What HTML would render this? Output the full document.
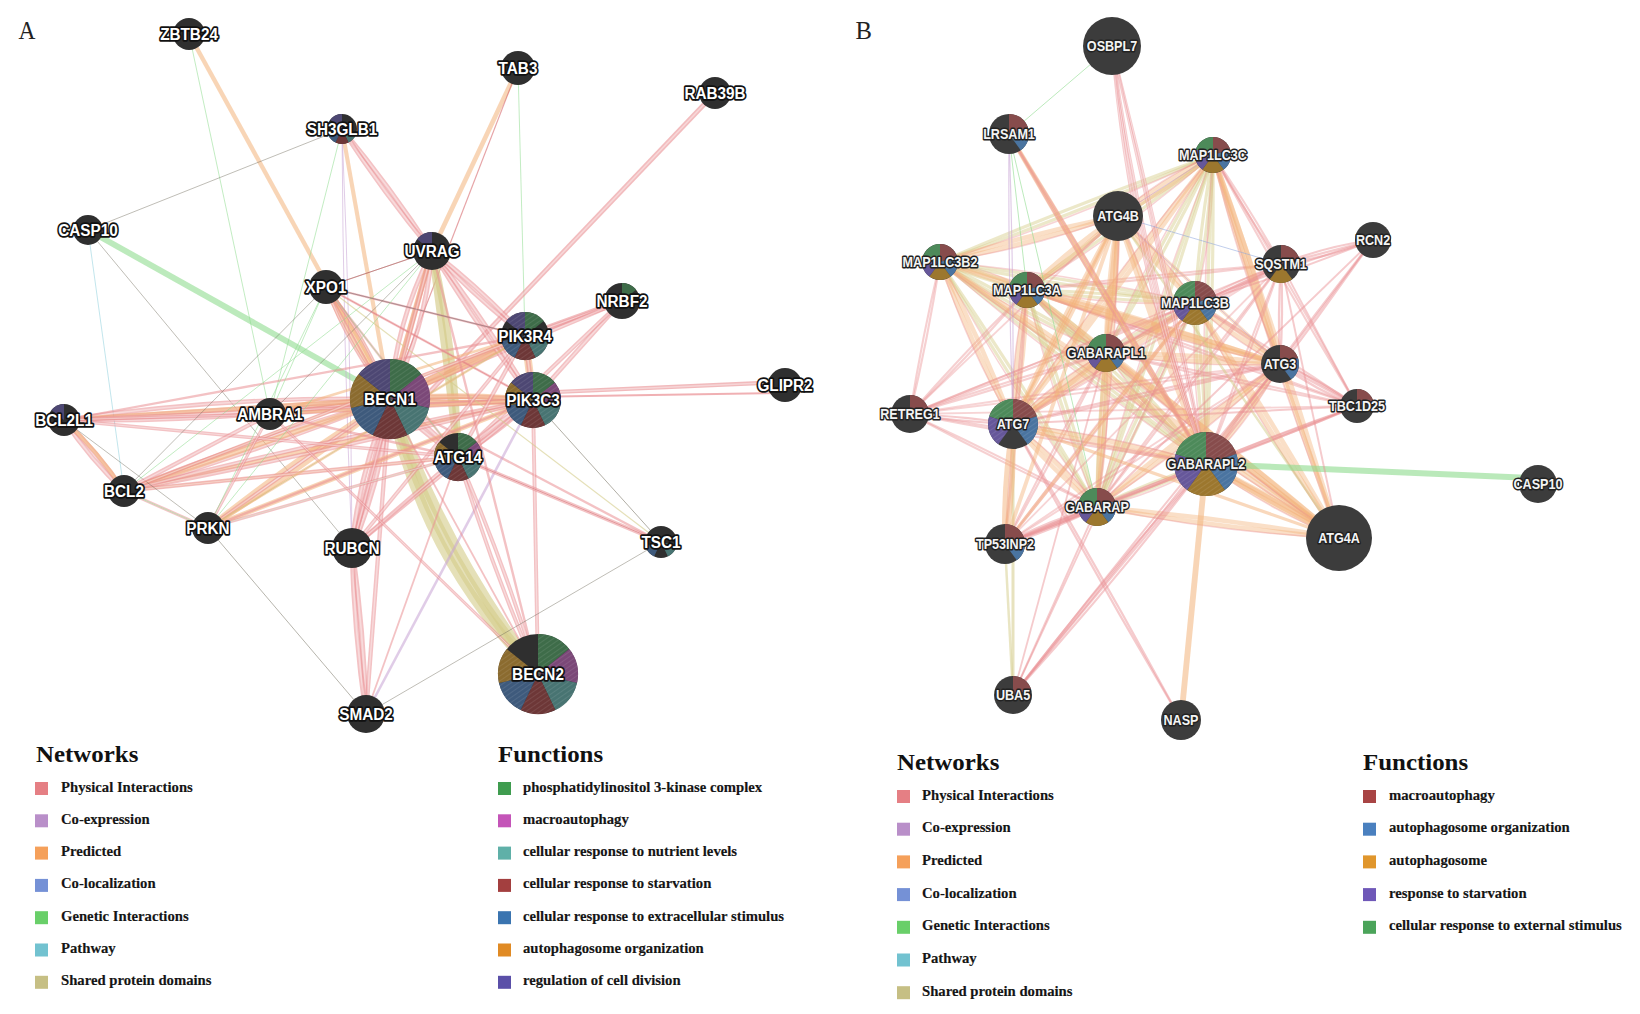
<!DOCTYPE html>
<html><head><meta charset="utf-8"><style>html,body{margin:0;padding:0;background:#fff;width:1640px;height:1014px;overflow:hidden}svg{display:block}</style></head>
<body>
<svg width="1640" height="1014" viewBox="0 0 1640 1014">
<style>
.la{font-family:"Liberation Sans",sans-serif;font-weight:bold;font-size:17px;fill:#fff;stroke:#111;stroke-width:3.6px;paint-order:stroke;stroke-linejoin:round;text-anchor:middle;dominant-baseline:central}
.lb{font-family:"Liberation Sans",sans-serif;font-weight:bold;font-size:14px;fill:#f4f4f4;stroke:#222;stroke-width:3px;paint-order:stroke;stroke-linejoin:round;text-anchor:middle;dominant-baseline:central}
.lt{font-family:"Liberation Serif",serif;font-weight:bold;font-size:23.5px;fill:#111}
.li{font-family:"Liberation Serif",serif;font-size:14.7px;font-weight:bold;fill:#151515;stroke:#151515;stroke-width:0.15px}
.pl{font-family:"Liberation Serif",serif;font-size:26px;fill:#222}
</style>
<defs><pattern id="hatch" width="4" height="4" patternUnits="userSpaceOnUse" patternTransform="rotate(-35)"><rect width="4" height="1" fill="#fff" fill-opacity="0.09"/></pattern></defs>
<rect width="1640" height="1014" fill="#fff"/>
<text class="pl" transform="translate(18.5,38.6) scale(0.9,1)">A</text>
<text class="pl" transform="translate(855.5,38.6) scale(0.95,1)">B</text>
<g stroke-linecap="butt" fill="none">
<path d="M189.0,34.0L390.0,399.0" stroke="#f3b27a" stroke-width="4.42" stroke-opacity="0.55"/>
<path d="M189.0,34.0L270.0,414.0" stroke="#8fdc8f" stroke-width="1.0" stroke-opacity="0.55"/>
<path d="M88.0,230.0L390.0,399.0" stroke="#8fdc8f" stroke-width="6.0" stroke-opacity="0.6"/>
<path d="M88.0,230.0L124.0,491.0" stroke="#8fd0dc" stroke-width="1.0" stroke-opacity="0.55"/>
<path d="M88.0,230.0L352.0,548.0" stroke="#6d6858" stroke-width="0.8" stroke-opacity="0.55"/>
<path d="M342.0,129.0L88.0,230.0" stroke="#6d6858" stroke-width="0.8" stroke-opacity="0.55"/>
<path d="M342.0,129.0Q390.6,187.4 432.0,251.0" stroke="#e98f93" stroke-width="4.785" stroke-opacity="0.55"/>
<path d="M342.0,129.0Q390.6,187.4 432.0,251.0" stroke="#fff" stroke-width="1.6" stroke-opacity="0.4"/>
<path d="M342.0,129.0Q383.4,192.6 432.0,251.0" stroke="#e98f93" stroke-width="4.785" stroke-opacity="0.55"/>
<path d="M342.0,129.0Q383.4,192.6 432.0,251.0" stroke="#fff" stroke-width="1.6" stroke-opacity="0.4"/>
<path d="M342.0,129.0L390.0,399.0" stroke="#f3b27a" stroke-width="4.16" stroke-opacity="0.55"/>
<path d="M342.0,129.0L270.0,414.0" stroke="#8fdc8f" stroke-width="1.0" stroke-opacity="0.55"/>
<path d="M342.0,129.0Q351.0,338.4 352.0,548.0" stroke="#c6a3d4" stroke-width="1.0" stroke-opacity="0.55"/>
<path d="M342.0,129.0Q343.0,338.6 352.0,548.0" stroke="#c6a3d4" stroke-width="1.0" stroke-opacity="0.55"/>
<path d="M518.0,68.0L432.0,251.0" stroke="#f3b27a" stroke-width="4.680000000000001" stroke-opacity="0.55"/>
<path d="M518.0,68.0L390.0,399.0" stroke="#d25a5f" stroke-width="1.2" stroke-opacity="0.55"/>
<path d="M518.0,68.0L525.0,336.0" stroke="#8fdc8f" stroke-width="1.0" stroke-opacity="0.55"/>
<path d="M715.0,93.0L423.0,399.0" stroke="#e98f93" stroke-width="4.785" stroke-opacity="0.6"/>
<path d="M715.0,93.0L423.0,399.0" stroke="#fff" stroke-width="1.6" stroke-opacity="0.4"/>
<path d="M786.0,382.0L533.0,393.0" stroke="#e98f93" stroke-width="4.199999999999999" stroke-opacity="0.62"/>
<path d="M786.0,382.0L533.0,393.0" stroke="#fff" stroke-width="1.4" stroke-opacity="0.4"/>
<path d="M786.0,393.0L390.0,399.0" stroke="#e98f93" stroke-width="1.9500000000000002" stroke-opacity="0.7"/>
<path d="M622.0,301.0L525.0,336.0" stroke="#e98f93" stroke-width="6.0" stroke-opacity="0.6"/>
<path d="M622.0,301.0L525.0,336.0" stroke="#fff" stroke-width="2.0" stroke-opacity="0.4"/>
<path d="M622.0,301.0L525.0,336.0" stroke="#e98f93" stroke-width="3.045" stroke-opacity="0.55"/>
<path d="M622.0,301.0L525.0,336.0" stroke="#fff" stroke-width="1.0" stroke-opacity="0.4"/>
<path d="M622.0,301.0L533.0,400.0" stroke="#e98f93" stroke-width="4.785" stroke-opacity="0.55"/>
<path d="M622.0,301.0L533.0,400.0" stroke="#fff" stroke-width="1.6" stroke-opacity="0.4"/>
<path d="M622.0,301.0L390.0,399.0" stroke="#e98f93" stroke-width="4.35" stroke-opacity="0.55"/>
<path d="M622.0,301.0L390.0,399.0" stroke="#fff" stroke-width="1.4" stroke-opacity="0.4"/>
<path d="M622.0,301.0L458.0,457.0" stroke="#e98f93" stroke-width="4.35" stroke-opacity="0.55"/>
<path d="M622.0,301.0L458.0,457.0" stroke="#fff" stroke-width="1.4" stroke-opacity="0.4"/>
<path d="M390.0,399.0Q442.9,547.9 538.0,674.0" stroke="#d4cb88" stroke-width="10.0" stroke-opacity="0.6"/>
<path d="M390.0,399.0Q432.3,553.6 538.0,674.0" stroke="#d4cb88" stroke-width="10.0" stroke-opacity="0.6"/>
<path d="M390.0,399.0Q421.7,559.2 538.0,674.0" stroke="#d4cb88" stroke-width="10.0" stroke-opacity="0.6"/>
<path d="M432.0,251.0Q455.9,352.6 458.0,457.0" stroke="#d4cb88" stroke-width="7.0" stroke-opacity="0.65"/>
<path d="M432.0,251.0Q446.0,353.9 458.0,457.0" stroke="#d4cb88" stroke-width="7.0" stroke-opacity="0.65"/>
<path d="M390.0,399.0Q461.5,393.6 533.0,400.0" stroke="#e98f93" stroke-width="4.785" stroke-opacity="0.55"/>
<path d="M390.0,399.0Q461.5,393.6 533.0,400.0" stroke="#fff" stroke-width="1.6" stroke-opacity="0.4"/>
<path d="M390.0,399.0Q461.5,405.4 533.0,400.0" stroke="#e98f93" stroke-width="4.785" stroke-opacity="0.55"/>
<path d="M390.0,399.0Q461.5,405.4 533.0,400.0" stroke="#fff" stroke-width="1.6" stroke-opacity="0.4"/>
<path d="M390.0,399.0Q461.5,392.7 533.0,400.0" stroke="#f3b27a" stroke-width="5.654999999999999" stroke-opacity="0.55"/>
<path d="M390.0,399.0Q461.5,406.3 533.0,400.0" stroke="#f3b27a" stroke-width="5.654999999999999" stroke-opacity="0.55"/>
<path d="M390.0,399.0Q455.3,362.9 525.0,336.0" stroke="#e98f93" stroke-width="4.785" stroke-opacity="0.55"/>
<path d="M390.0,399.0Q455.3,362.9 525.0,336.0" stroke="#fff" stroke-width="1.6" stroke-opacity="0.4"/>
<path d="M390.0,399.0Q459.7,372.1 525.0,336.0" stroke="#e98f93" stroke-width="4.785" stroke-opacity="0.55"/>
<path d="M390.0,399.0Q459.7,372.1 525.0,336.0" stroke="#fff" stroke-width="1.6" stroke-opacity="0.4"/>
<path d="M390.0,399.0L525.0,336.0" stroke="#f3b27a" stroke-width="7.800000000000001" stroke-opacity="0.6"/>
<path d="M390.0,399.0Q427.3,424.1 458.0,457.0" stroke="#e98f93" stroke-width="4.785" stroke-opacity="0.55"/>
<path d="M390.0,399.0Q427.3,424.1 458.0,457.0" stroke="#fff" stroke-width="1.6" stroke-opacity="0.4"/>
<path d="M390.0,399.0Q420.7,431.9 458.0,457.0" stroke="#e98f93" stroke-width="4.785" stroke-opacity="0.55"/>
<path d="M390.0,399.0Q420.7,431.9 458.0,457.0" stroke="#fff" stroke-width="1.6" stroke-opacity="0.4"/>
<path d="M390.0,399.0Q396.3,320.8 432.0,251.0" stroke="#e98f93" stroke-width="4.785" stroke-opacity="0.55"/>
<path d="M390.0,399.0Q396.3,320.8 432.0,251.0" stroke="#fff" stroke-width="1.6" stroke-opacity="0.4"/>
<path d="M390.0,399.0L432.0,251.0" stroke="#e98f93" stroke-width="4.785" stroke-opacity="0.55"/>
<path d="M390.0,399.0L432.0,251.0" stroke="#fff" stroke-width="1.6" stroke-opacity="0.4"/>
<path d="M390.0,399.0Q425.7,329.2 432.0,251.0" stroke="#e98f93" stroke-width="4.785" stroke-opacity="0.55"/>
<path d="M390.0,399.0Q425.7,329.2 432.0,251.0" stroke="#fff" stroke-width="1.6" stroke-opacity="0.4"/>
<path d="M390.0,399.0L432.0,251.0" stroke="#f3b27a" stroke-width="5.654999999999999" stroke-opacity="0.55"/>
<path d="M390.0,399.0Q382.5,476.4 352.0,548.0" stroke="#e98f93" stroke-width="5.22" stroke-opacity="0.55"/>
<path d="M390.0,399.0Q382.5,476.4 352.0,548.0" stroke="#fff" stroke-width="1.7" stroke-opacity="0.4"/>
<path d="M390.0,399.0L352.0,548.0" stroke="#e98f93" stroke-width="5.22" stroke-opacity="0.55"/>
<path d="M390.0,399.0L352.0,548.0" stroke="#fff" stroke-width="1.7" stroke-opacity="0.4"/>
<path d="M390.0,399.0Q359.5,470.6 352.0,548.0" stroke="#e98f93" stroke-width="5.22" stroke-opacity="0.55"/>
<path d="M390.0,399.0Q359.5,470.6 352.0,548.0" stroke="#fff" stroke-width="1.7" stroke-opacity="0.4"/>
<path d="M390.0,399.0Q330.6,411.6 270.0,414.0" stroke="#e98f93" stroke-width="4.35" stroke-opacity="0.55"/>
<path d="M390.0,399.0Q330.6,411.6 270.0,414.0" stroke="#fff" stroke-width="1.4" stroke-opacity="0.4"/>
<path d="M390.0,399.0Q329.4,401.4 270.0,414.0" stroke="#e98f93" stroke-width="4.35" stroke-opacity="0.55"/>
<path d="M390.0,399.0Q329.4,401.4 270.0,414.0" stroke="#fff" stroke-width="1.4" stroke-opacity="0.4"/>
<path d="M390.0,399.0L270.0,414.0" stroke="#f3b27a" stroke-width="3.9000000000000004" stroke-opacity="0.55"/>
<path d="M390.0,399.0Q227.9,423.1 64.0,420.0" stroke="#e98f93" stroke-width="4.35" stroke-opacity="0.55"/>
<path d="M390.0,399.0Q227.9,423.1 64.0,420.0" stroke="#fff" stroke-width="1.4" stroke-opacity="0.4"/>
<path d="M390.0,399.0L64.0,420.0" stroke="#e98f93" stroke-width="4.35" stroke-opacity="0.55"/>
<path d="M390.0,399.0L64.0,420.0" stroke="#fff" stroke-width="1.4" stroke-opacity="0.4"/>
<path d="M390.0,399.0Q226.1,395.9 64.0,420.0" stroke="#e98f93" stroke-width="4.35" stroke-opacity="0.55"/>
<path d="M390.0,399.0Q226.1,395.9 64.0,420.0" stroke="#fff" stroke-width="1.4" stroke-opacity="0.4"/>
<path d="M390.0,399.0L64.0,420.0" stroke="#f3b27a" stroke-width="4.901" stroke-opacity="0.55"/>
<path d="M390.0,399.0Q259.2,451.4 124.0,491.0" stroke="#e98f93" stroke-width="4.35" stroke-opacity="0.55"/>
<path d="M390.0,399.0Q259.2,451.4 124.0,491.0" stroke="#fff" stroke-width="1.4" stroke-opacity="0.4"/>
<path d="M390.0,399.0Q254.8,438.6 124.0,491.0" stroke="#e98f93" stroke-width="4.35" stroke-opacity="0.55"/>
<path d="M390.0,399.0Q254.8,438.6 124.0,491.0" stroke="#fff" stroke-width="1.4" stroke-opacity="0.4"/>
<path d="M390.0,399.0L124.0,491.0" stroke="#f3b27a" stroke-width="5.654999999999999" stroke-opacity="0.55"/>
<path d="M390.0,399.0Q302.9,469.0 208.0,528.0" stroke="#f3b27a" stroke-width="4.901" stroke-opacity="0.55"/>
<path d="M390.0,399.0Q295.1,458.0 208.0,528.0" stroke="#f3b27a" stroke-width="4.901" stroke-opacity="0.55"/>
<path d="M390.0,399.0L208.0,528.0" stroke="#e98f93" stroke-width="3.915" stroke-opacity="0.55"/>
<path d="M390.0,399.0L208.0,528.0" stroke="#fff" stroke-width="1.3" stroke-opacity="0.4"/>
<path d="M390.0,399.0Q352.1,346.4 326.0,287.0" stroke="#f3b27a" stroke-width="5.278" stroke-opacity="0.55"/>
<path d="M390.0,399.0Q363.9,339.6 326.0,287.0" stroke="#f3b27a" stroke-width="5.278" stroke-opacity="0.55"/>
<path d="M390.0,399.0Q349.1,348.1 326.0,287.0" stroke="#e98f93" stroke-width="3.4799999999999995" stroke-opacity="0.55"/>
<path d="M390.0,399.0Q349.1,348.1 326.0,287.0" stroke="#fff" stroke-width="1.1" stroke-opacity="0.4"/>
<path d="M390.0,399.0Q366.9,337.9 326.0,287.0" stroke="#e98f93" stroke-width="3.4799999999999995" stroke-opacity="0.55"/>
<path d="M390.0,399.0Q366.9,337.9 326.0,287.0" stroke="#fff" stroke-width="1.1" stroke-opacity="0.4"/>
<path d="M390.0,399.0L366.0,714.0" stroke="#e98f93" stroke-width="4.35" stroke-opacity="0.55"/>
<path d="M390.0,399.0L366.0,714.0" stroke="#fff" stroke-width="1.4" stroke-opacity="0.4"/>
<path d="M390.0,399.0L661.0,542.0" stroke="#e98f93" stroke-width="2.4000000000000004" stroke-opacity="0.55"/>
<path d="M533.0,400.0L525.0,336.0" stroke="#f3b27a" stroke-width="7.800000000000001" stroke-opacity="0.55"/>
<path d="M533.0,400.0L525.0,336.0" stroke="#e98f93" stroke-width="4.785" stroke-opacity="0.55"/>
<path d="M533.0,400.0L525.0,336.0" stroke="#fff" stroke-width="1.6" stroke-opacity="0.4"/>
<path d="M533.0,400.0Q498.6,432.6 458.0,457.0" stroke="#e98f93" stroke-width="4.785" stroke-opacity="0.55"/>
<path d="M533.0,400.0Q498.6,432.6 458.0,457.0" stroke="#fff" stroke-width="1.6" stroke-opacity="0.4"/>
<path d="M533.0,400.0Q492.4,424.4 458.0,457.0" stroke="#e98f93" stroke-width="4.785" stroke-opacity="0.55"/>
<path d="M533.0,400.0Q492.4,424.4 458.0,457.0" stroke="#fff" stroke-width="1.6" stroke-opacity="0.4"/>
<path d="M533.0,400.0Q478.3,328.4 432.0,251.0" stroke="#e98f93" stroke-width="4.785" stroke-opacity="0.55"/>
<path d="M533.0,400.0Q478.3,328.4 432.0,251.0" stroke="#fff" stroke-width="1.6" stroke-opacity="0.4"/>
<path d="M533.0,400.0Q486.7,322.6 432.0,251.0" stroke="#e98f93" stroke-width="4.785" stroke-opacity="0.55"/>
<path d="M533.0,400.0Q486.7,322.6 432.0,251.0" stroke="#fff" stroke-width="1.6" stroke-opacity="0.4"/>
<path d="M533.0,400.0L352.0,548.0" stroke="#e98f93" stroke-width="4.35" stroke-opacity="0.55"/>
<path d="M533.0,400.0L352.0,548.0" stroke="#fff" stroke-width="1.4" stroke-opacity="0.4"/>
<path d="M533.0,400.0L64.0,420.0" stroke="#e98f93" stroke-width="4.35" stroke-opacity="0.55"/>
<path d="M533.0,400.0L64.0,420.0" stroke="#fff" stroke-width="1.4" stroke-opacity="0.4"/>
<path d="M533.0,400.0L124.0,491.0" stroke="#f3b27a" stroke-width="4.524" stroke-opacity="0.55"/>
<path d="M533.0,400.0Q330.0,452.1 124.0,491.0" stroke="#e98f93" stroke-width="4.35" stroke-opacity="0.55"/>
<path d="M533.0,400.0Q330.0,452.1 124.0,491.0" stroke="#fff" stroke-width="1.4" stroke-opacity="0.4"/>
<path d="M533.0,400.0Q327.0,438.9 124.0,491.0" stroke="#e98f93" stroke-width="4.35" stroke-opacity="0.55"/>
<path d="M533.0,400.0Q327.0,438.9 124.0,491.0" stroke="#fff" stroke-width="1.4" stroke-opacity="0.4"/>
<path d="M533.0,400.0L208.0,528.0" stroke="#f3b27a" stroke-width="4.901" stroke-opacity="0.55"/>
<path d="M533.0,400.0L208.0,528.0" stroke="#e98f93" stroke-width="2.4000000000000004" stroke-opacity="0.55"/>
<path d="M533.0,400.0L270.0,414.0" stroke="#e98f93" stroke-width="4.35" stroke-opacity="0.55"/>
<path d="M533.0,400.0L270.0,414.0" stroke="#fff" stroke-width="1.4" stroke-opacity="0.4"/>
<path d="M533.0,400.0L270.0,414.0" stroke="#f3b27a" stroke-width="3.12" stroke-opacity="0.55"/>
<path d="M533.0,400.0L326.0,287.0" stroke="#d25a5f" stroke-width="1.0" stroke-opacity="0.55"/>
<path d="M533.0,400.0L326.0,287.0" stroke="#e98f93" stroke-width="2.4000000000000004" stroke-opacity="0.55"/>
<path d="M533.0,400.0L538.0,674.0" stroke="#e98f93" stroke-width="3.915" stroke-opacity="0.55"/>
<path d="M533.0,400.0L538.0,674.0" stroke="#fff" stroke-width="1.3" stroke-opacity="0.4"/>
<path d="M533.0,400.0L661.0,542.0" stroke="#6d6858" stroke-width="0.9" stroke-opacity="0.6"/>
<path d="M326.0,287.0L661.0,542.0" stroke="#d4cb88" stroke-width="1.2" stroke-opacity="0.6"/>
<path d="M533.0,400.0L366.0,714.0" stroke="#c6a3d4" stroke-width="2.6" stroke-opacity="0.55"/>
<path d="M525.0,336.0L458.0,457.0" stroke="#e98f93" stroke-width="4.35" stroke-opacity="0.55"/>
<path d="M525.0,336.0L458.0,457.0" stroke="#fff" stroke-width="1.4" stroke-opacity="0.4"/>
<path d="M525.0,336.0Q475.1,297.3 432.0,251.0" stroke="#e98f93" stroke-width="4.785" stroke-opacity="0.55"/>
<path d="M525.0,336.0Q475.1,297.3 432.0,251.0" stroke="#fff" stroke-width="1.6" stroke-opacity="0.4"/>
<path d="M525.0,336.0Q481.9,289.7 432.0,251.0" stroke="#e98f93" stroke-width="4.785" stroke-opacity="0.55"/>
<path d="M525.0,336.0Q481.9,289.7 432.0,251.0" stroke="#fff" stroke-width="1.6" stroke-opacity="0.4"/>
<path d="M525.0,336.0L352.0,548.0" stroke="#e98f93" stroke-width="3.915" stroke-opacity="0.55"/>
<path d="M525.0,336.0L352.0,548.0" stroke="#fff" stroke-width="1.3" stroke-opacity="0.4"/>
<path d="M525.0,336.0L326.0,287.0" stroke="#9a8ad0" stroke-width="1.0" stroke-opacity="0.45"/>
<path d="M525.0,336.0L326.0,287.0" stroke="#e98f93" stroke-width="2.0999999999999996" stroke-opacity="0.55"/>
<path d="M525.0,336.0L124.0,491.0" stroke="#f3b27a" stroke-width="2.6" stroke-opacity="0.55"/>
<path d="M525.0,336.0L124.0,491.0" stroke="#e98f93" stroke-width="3.915" stroke-opacity="0.55"/>
<path d="M525.0,336.0L124.0,491.0" stroke="#fff" stroke-width="1.3" stroke-opacity="0.4"/>
<path d="M525.0,336.0L64.0,420.0" stroke="#e98f93" stroke-width="2.25" stroke-opacity="0.55"/>
<path d="M525.0,336.0L208.0,528.0" stroke="#8fdc8f" stroke-width="1.0" stroke-opacity="0.55"/>
<path d="M525.0,336.0L270.0,414.0" stroke="#f3b27a" stroke-width="2.6" stroke-opacity="0.55"/>
<path d="M458.0,457.0L352.0,548.0" stroke="#e98f93" stroke-width="4.35" stroke-opacity="0.55"/>
<path d="M458.0,457.0L352.0,548.0" stroke="#fff" stroke-width="1.4" stroke-opacity="0.4"/>
<path d="M458.0,457.0L661.0,542.0" stroke="#e98f93" stroke-width="3.915" stroke-opacity="0.55"/>
<path d="M458.0,457.0L661.0,542.0" stroke="#fff" stroke-width="1.3" stroke-opacity="0.4"/>
<path d="M458.0,457.0L661.0,542.0" stroke="#d25a5f" stroke-width="1.0" stroke-opacity="0.55"/>
<path d="M458.0,457.0Q504.4,563.1 538.0,674.0" stroke="#e98f93" stroke-width="3.915" stroke-opacity="0.55"/>
<path d="M458.0,457.0Q504.4,563.1 538.0,674.0" stroke="#fff" stroke-width="1.3" stroke-opacity="0.4"/>
<path d="M458.0,457.0Q491.6,567.9 538.0,674.0" stroke="#e98f93" stroke-width="3.915" stroke-opacity="0.55"/>
<path d="M458.0,457.0Q491.6,567.9 538.0,674.0" stroke="#fff" stroke-width="1.3" stroke-opacity="0.4"/>
<path d="M458.0,457.0L326.0,287.0" stroke="#e98f93" stroke-width="2.25" stroke-opacity="0.55"/>
<path d="M458.0,457.0L124.0,491.0" stroke="#f3b27a" stroke-width="2.6" stroke-opacity="0.55"/>
<path d="M458.0,457.0L124.0,491.0" stroke="#e98f93" stroke-width="3.915" stroke-opacity="0.55"/>
<path d="M458.0,457.0L124.0,491.0" stroke="#fff" stroke-width="1.3" stroke-opacity="0.4"/>
<path d="M458.0,457.0L64.0,420.0" stroke="#e98f93" stroke-width="3.4799999999999995" stroke-opacity="0.55"/>
<path d="M458.0,457.0L64.0,420.0" stroke="#fff" stroke-width="1.1" stroke-opacity="0.4"/>
<path d="M458.0,457.0L208.0,528.0" stroke="#8fdc8f" stroke-width="1.0" stroke-opacity="0.55"/>
<path d="M458.0,457.0L270.0,414.0" stroke="#e98f93" stroke-width="2.4000000000000004" stroke-opacity="0.55"/>
<path d="M432.0,251.0L352.0,548.0" stroke="#e98f93" stroke-width="4.35" stroke-opacity="0.55"/>
<path d="M432.0,251.0L352.0,548.0" stroke="#fff" stroke-width="1.4" stroke-opacity="0.4"/>
<path d="M432.0,251.0L326.0,287.0" stroke="#6d6858" stroke-width="0.8" stroke-opacity="0.55"/>
<path d="M432.0,251.0L326.0,287.0" stroke="#d25a5f" stroke-width="1.0" stroke-opacity="0.55"/>
<path d="M432.0,251.0L538.0,674.0" stroke="#e98f93" stroke-width="2.4000000000000004" stroke-opacity="0.55"/>
<path d="M432.0,251.0L270.0,414.0" stroke="#6d6858" stroke-width="0.8" stroke-opacity="0.55"/>
<path d="M432.0,251.0L124.0,491.0" stroke="#8fdc8f" stroke-width="1.0" stroke-opacity="0.55"/>
<path d="M352.0,548.0Q363.7,630.6 366.0,714.0" stroke="#e98f93" stroke-width="5.22" stroke-opacity="0.55"/>
<path d="M352.0,548.0Q363.7,630.6 366.0,714.0" stroke="#fff" stroke-width="1.7" stroke-opacity="0.4"/>
<path d="M352.0,548.0Q354.3,631.4 366.0,714.0" stroke="#e98f93" stroke-width="5.22" stroke-opacity="0.55"/>
<path d="M352.0,548.0Q354.3,631.4 366.0,714.0" stroke="#fff" stroke-width="1.7" stroke-opacity="0.4"/>
<path d="M270.0,414.0L538.0,674.0" stroke="#e98f93" stroke-width="3.0" stroke-opacity="0.55"/>
<path d="M270.0,414.0L538.0,674.0" stroke="#fff" stroke-width="1.0" stroke-opacity="0.4"/>
<path d="M366.0,714.0L661.0,542.0" stroke="#6d6858" stroke-width="0.8" stroke-opacity="0.55"/>
<path d="M366.0,714.0L208.0,528.0" stroke="#6d6858" stroke-width="0.9" stroke-opacity="0.55"/>
<path d="M366.0,714.0L458.0,457.0" stroke="#e98f93" stroke-width="1.7999999999999998" stroke-opacity="0.55"/>
<path d="M124.0,491.0Q90.1,458.8 64.0,420.0" stroke="#e98f93" stroke-width="4.785" stroke-opacity="0.55"/>
<path d="M124.0,491.0Q90.1,458.8 64.0,420.0" stroke="#fff" stroke-width="1.6" stroke-opacity="0.4"/>
<path d="M124.0,491.0Q97.9,452.2 64.0,420.0" stroke="#e98f93" stroke-width="4.785" stroke-opacity="0.55"/>
<path d="M124.0,491.0Q97.9,452.2 64.0,420.0" stroke="#fff" stroke-width="1.6" stroke-opacity="0.4"/>
<path d="M124.0,491.0Q98.6,451.6 64.0,420.0" stroke="#f3b27a" stroke-width="3.9000000000000004" stroke-opacity="0.6"/>
<path d="M124.0,491.0L208.0,528.0" stroke="#e98f93" stroke-width="3.0" stroke-opacity="0.55"/>
<path d="M124.0,491.0L208.0,528.0" stroke="#fff" stroke-width="1.0" stroke-opacity="0.4"/>
<path d="M124.0,491.0L208.0,528.0" stroke="#8fdc8f" stroke-width="1.0" stroke-opacity="0.55"/>
<path d="M64.0,420.0L208.0,528.0" stroke="#6d6858" stroke-width="0.8" stroke-opacity="0.55"/>
<path d="M270.0,414.0L208.0,528.0" stroke="#e98f93" stroke-width="3.0" stroke-opacity="0.55"/>
<path d="M270.0,414.0L208.0,528.0" stroke="#fff" stroke-width="1.0" stroke-opacity="0.4"/>
<path d="M270.0,414.0L124.0,491.0" stroke="#e98f93" stroke-width="4.35" stroke-opacity="0.55"/>
<path d="M270.0,414.0L124.0,491.0" stroke="#fff" stroke-width="1.4" stroke-opacity="0.4"/>
<path d="M270.0,414.0L326.0,287.0" stroke="#8fdc8f" stroke-width="1.0" stroke-opacity="0.55"/>
<path d="M270.0,414.0L64.0,420.0" stroke="#e98f93" stroke-width="3.4799999999999995" stroke-opacity="0.55"/>
<path d="M270.0,414.0L64.0,420.0" stroke="#fff" stroke-width="1.1" stroke-opacity="0.4"/>
<path d="M208.0,528.0L326.0,287.0" stroke="#8fdc8f" stroke-width="1.0" stroke-opacity="0.55"/>
<path d="M124.0,491.0L326.0,287.0" stroke="#6d6858" stroke-width="0.8" stroke-opacity="0.55"/>
<path d="M326.0,287.0L525.0,336.0" stroke="#6d6858" stroke-width="0.8" stroke-opacity="0.55"/>
<path d="M326.0,287.0L458.0,457.0" stroke="#8fdc8f" stroke-width="1.0" stroke-opacity="0.55"/>
<path d="M326.0,287.0L538.0,674.0" stroke="#e98f93" stroke-width="1.7999999999999998" stroke-opacity="0.55"/>
<path d="M208.0,528.0L525.0,336.0" stroke="#f3b27a" stroke-width="2.6" stroke-opacity="0.55"/>
<path d="M208.0,528.0L458.0,457.0" stroke="#e98f93" stroke-width="3.045" stroke-opacity="0.55"/>
<path d="M208.0,528.0L458.0,457.0" stroke="#fff" stroke-width="1.0" stroke-opacity="0.4"/>
<path d="M208.0,528.0L432.0,251.0" stroke="#8fdc8f" stroke-width="1.0" stroke-opacity="0.55"/>
<path d="M1027.0,290.0Q1111.3,292.0 1195.0,303.0" stroke="#d4cb88" stroke-width="3.2" stroke-opacity="0.45"/>
<path d="M1027.0,290.0Q1110.7,301.0 1195.0,303.0" stroke="#d4cb88" stroke-width="3.2" stroke-opacity="0.45"/>
<path d="M1027.0,290.0Q1110.2,306.5 1195.0,303.0" stroke="#e98f93" stroke-width="1.5" stroke-opacity="0.3825"/>
<path d="M1027.0,290.0Q982.1,280.3 940.0,262.0" stroke="#d4cb88" stroke-width="3.2" stroke-opacity="0.45"/>
<path d="M1027.0,290.0Q984.9,271.7 940.0,262.0" stroke="#d4cb88" stroke-width="3.2" stroke-opacity="0.45"/>
<path d="M1027.0,290.0Q986.6,266.5 940.0,262.0" stroke="#e98f93" stroke-width="1.5" stroke-opacity="0.3825"/>
<path d="M1027.0,290.0Q1117.4,218.9 1213.0,155.0" stroke="#d4cb88" stroke-width="3.2" stroke-opacity="0.45"/>
<path d="M1027.0,290.0Q1122.6,226.1 1213.0,155.0" stroke="#d4cb88" stroke-width="3.2" stroke-opacity="0.45"/>
<path d="M1027.0,290.0Q1125.9,230.6 1213.0,155.0" stroke="#e98f93" stroke-width="1.5" stroke-opacity="0.3825"/>
<path d="M1027.0,290.0Q1066.3,397.1 1097.0,507.0" stroke="#d4cb88" stroke-width="3.2" stroke-opacity="0.45"/>
<path d="M1027.0,290.0Q1057.7,399.9 1097.0,507.0" stroke="#d4cb88" stroke-width="3.2" stroke-opacity="0.45"/>
<path d="M1027.0,290.0Q1052.5,401.6 1097.0,507.0" stroke="#e98f93" stroke-width="1.5" stroke-opacity="0.3825"/>
<path d="M1027.0,290.0Q1069.3,318.0 1106.0,353.0" stroke="#d4cb88" stroke-width="3.2" stroke-opacity="0.45"/>
<path d="M1027.0,290.0Q1063.7,325.0 1106.0,353.0" stroke="#d4cb88" stroke-width="3.2" stroke-opacity="0.45"/>
<path d="M1027.0,290.0Q1060.3,329.3 1106.0,353.0" stroke="#e98f93" stroke-width="1.5" stroke-opacity="0.3825"/>
<path d="M1027.0,290.0Q1119.6,373.8 1206.0,464.0" stroke="#d4cb88" stroke-width="3.2" stroke-opacity="0.45"/>
<path d="M1027.0,290.0Q1113.4,380.2 1206.0,464.0" stroke="#d4cb88" stroke-width="3.2" stroke-opacity="0.45"/>
<path d="M1027.0,290.0Q1109.5,384.2 1206.0,464.0" stroke="#e98f93" stroke-width="1.5" stroke-opacity="0.3825"/>
<path d="M1195.0,303.0Q1066.8,286.9 940.0,262.0" stroke="#d4cb88" stroke-width="3.2" stroke-opacity="0.45"/>
<path d="M1195.0,303.0Q1068.2,278.1 940.0,262.0" stroke="#d4cb88" stroke-width="3.2" stroke-opacity="0.45"/>
<path d="M1195.0,303.0Q1069.1,272.6 940.0,262.0" stroke="#e98f93" stroke-width="1.5" stroke-opacity="0.3825"/>
<path d="M1195.0,303.0Q1199.5,228.5 1213.0,155.0" stroke="#d4cb88" stroke-width="3.2" stroke-opacity="0.45"/>
<path d="M1195.0,303.0Q1208.5,229.5 1213.0,155.0" stroke="#d4cb88" stroke-width="3.2" stroke-opacity="0.45"/>
<path d="M1195.0,303.0Q1213.9,230.2 1213.0,155.0" stroke="#e98f93" stroke-width="1.5" stroke-opacity="0.3825"/>
<path d="M1195.0,303.0Q1150.1,406.9 1097.0,507.0" stroke="#d4cb88" stroke-width="3.2" stroke-opacity="0.45"/>
<path d="M1195.0,303.0Q1141.9,403.1 1097.0,507.0" stroke="#d4cb88" stroke-width="3.2" stroke-opacity="0.45"/>
<path d="M1195.0,303.0Q1137.0,400.7 1097.0,507.0" stroke="#e98f93" stroke-width="1.5" stroke-opacity="0.3825"/>
<path d="M1195.0,303.0Q1152.7,331.9 1106.0,353.0" stroke="#d4cb88" stroke-width="3.2" stroke-opacity="0.45"/>
<path d="M1195.0,303.0Q1148.3,324.1 1106.0,353.0" stroke="#d4cb88" stroke-width="3.2" stroke-opacity="0.45"/>
<path d="M1195.0,303.0Q1145.6,319.3 1106.0,353.0" stroke="#e98f93" stroke-width="1.5" stroke-opacity="0.3825"/>
<path d="M1195.0,303.0Q1205.0,383.2 1206.0,464.0" stroke="#d4cb88" stroke-width="3.2" stroke-opacity="0.45"/>
<path d="M1195.0,303.0Q1196.0,383.8 1206.0,464.0" stroke="#d4cb88" stroke-width="3.2" stroke-opacity="0.45"/>
<path d="M1195.0,303.0Q1190.5,384.2 1206.0,464.0" stroke="#e98f93" stroke-width="1.5" stroke-opacity="0.3825"/>
<path d="M940.0,262.0Q1074.9,204.3 1213.0,155.0" stroke="#d4cb88" stroke-width="3.2" stroke-opacity="0.45"/>
<path d="M940.0,262.0Q1078.1,212.7 1213.0,155.0" stroke="#d4cb88" stroke-width="3.2" stroke-opacity="0.45"/>
<path d="M940.0,262.0Q1080.1,217.8 1213.0,155.0" stroke="#e98f93" stroke-width="1.5" stroke-opacity="0.3825"/>
<path d="M940.0,262.0Q1022.3,382.1 1097.0,507.0" stroke="#d4cb88" stroke-width="3.2" stroke-opacity="0.45"/>
<path d="M940.0,262.0Q1014.7,386.9 1097.0,507.0" stroke="#d4cb88" stroke-width="3.2" stroke-opacity="0.45"/>
<path d="M940.0,262.0Q1010.1,389.9 1097.0,507.0" stroke="#e98f93" stroke-width="1.5" stroke-opacity="0.3825"/>
<path d="M940.0,262.0Q1025.2,303.6 1106.0,353.0" stroke="#d4cb88" stroke-width="3.2" stroke-opacity="0.45"/>
<path d="M940.0,262.0Q1020.8,311.4 1106.0,353.0" stroke="#d4cb88" stroke-width="3.2" stroke-opacity="0.45"/>
<path d="M940.0,262.0Q1018.2,316.3 1106.0,353.0" stroke="#e98f93" stroke-width="1.5" stroke-opacity="0.3825"/>
<path d="M940.0,262.0Q1075.7,359.4 1206.0,464.0" stroke="#d4cb88" stroke-width="3.2" stroke-opacity="0.45"/>
<path d="M940.0,262.0Q1070.3,366.6 1206.0,464.0" stroke="#d4cb88" stroke-width="3.2" stroke-opacity="0.45"/>
<path d="M940.0,262.0Q1067.0,371.0 1206.0,464.0" stroke="#e98f93" stroke-width="1.5" stroke-opacity="0.3825"/>
<path d="M1213.0,155.0Q1159.3,332.4 1097.0,507.0" stroke="#d4cb88" stroke-width="3.2" stroke-opacity="0.45"/>
<path d="M1213.0,155.0Q1150.7,329.6 1097.0,507.0" stroke="#d4cb88" stroke-width="3.2" stroke-opacity="0.45"/>
<path d="M1213.0,155.0Q1145.5,327.9 1097.0,507.0" stroke="#e98f93" stroke-width="1.5" stroke-opacity="0.3825"/>
<path d="M1213.0,155.0Q1163.5,256.1 1106.0,353.0" stroke="#d4cb88" stroke-width="3.2" stroke-opacity="0.45"/>
<path d="M1213.0,155.0Q1155.5,251.9 1106.0,353.0" stroke="#d4cb88" stroke-width="3.2" stroke-opacity="0.45"/>
<path d="M1213.0,155.0Q1150.7,249.2 1106.0,353.0" stroke="#e98f93" stroke-width="1.5" stroke-opacity="0.3825"/>
<path d="M1213.0,155.0Q1214.0,309.6 1206.0,464.0" stroke="#d4cb88" stroke-width="3.2" stroke-opacity="0.45"/>
<path d="M1213.0,155.0Q1205.0,309.4 1206.0,464.0" stroke="#d4cb88" stroke-width="3.2" stroke-opacity="0.45"/>
<path d="M1213.0,155.0Q1199.5,309.3 1206.0,464.0" stroke="#e98f93" stroke-width="1.5" stroke-opacity="0.3825"/>
<path d="M1097.0,507.0Q1097.0,429.7 1106.0,353.0" stroke="#d4cb88" stroke-width="3.2" stroke-opacity="0.45"/>
<path d="M1097.0,507.0Q1106.0,430.3 1106.0,353.0" stroke="#d4cb88" stroke-width="3.2" stroke-opacity="0.45"/>
<path d="M1097.0,507.0Q1111.5,430.6 1106.0,353.0" stroke="#e98f93" stroke-width="1.5" stroke-opacity="0.3825"/>
<path d="M1097.0,507.0Q1149.8,481.3 1206.0,464.0" stroke="#d4cb88" stroke-width="3.2" stroke-opacity="0.45"/>
<path d="M1097.0,507.0Q1153.2,489.7 1206.0,464.0" stroke="#d4cb88" stroke-width="3.2" stroke-opacity="0.45"/>
<path d="M1097.0,507.0Q1155.2,494.8 1206.0,464.0" stroke="#e98f93" stroke-width="1.5" stroke-opacity="0.3825"/>
<path d="M1106.0,353.0Q1159.3,405.5 1206.0,464.0" stroke="#d4cb88" stroke-width="3.2" stroke-opacity="0.45"/>
<path d="M1106.0,353.0Q1152.7,411.5 1206.0,464.0" stroke="#d4cb88" stroke-width="3.2" stroke-opacity="0.45"/>
<path d="M1106.0,353.0Q1148.6,415.2 1206.0,464.0" stroke="#e98f93" stroke-width="1.5" stroke-opacity="0.3825"/>
<path d="M1027.0,290.0Q1186.1,410.1 1339.0,538.0" stroke="#f3b27a" stroke-width="4.680000000000001" stroke-opacity="0.42"/>
<path d="M1027.0,290.0Q1179.9,417.9 1339.0,538.0" stroke="#f3b27a" stroke-width="4.680000000000001" stroke-opacity="0.42"/>
<path d="M1027.0,290.0Q1176.8,421.8 1339.0,538.0" stroke="#e98f93" stroke-width="1.5" stroke-opacity="0.3825"/>
<path d="M1027.0,290.0Q1069.3,249.1 1118.0,216.0" stroke="#f3b27a" stroke-width="4.680000000000001" stroke-opacity="0.42"/>
<path d="M1027.0,290.0Q1075.7,256.9 1118.0,216.0" stroke="#f3b27a" stroke-width="4.680000000000001" stroke-opacity="0.42"/>
<path d="M1027.0,290.0Q1078.8,260.8 1118.0,216.0" stroke="#e98f93" stroke-width="1.5" stroke-opacity="0.3825"/>
<path d="M1027.0,290.0Q1025.0,357.5 1013.0,424.0" stroke="#f3b27a" stroke-width="4.680000000000001" stroke-opacity="0.42"/>
<path d="M1027.0,290.0Q1015.0,356.5 1013.0,424.0" stroke="#f3b27a" stroke-width="4.680000000000001" stroke-opacity="0.42"/>
<path d="M1027.0,290.0Q1010.1,356.0 1013.0,424.0" stroke="#e98f93" stroke-width="1.5" stroke-opacity="0.3825"/>
<path d="M1027.0,290.0Q1154.9,322.2 1280.0,364.0" stroke="#f3b27a" stroke-width="4.680000000000001" stroke-opacity="0.42"/>
<path d="M1027.0,290.0Q1152.1,331.8 1280.0,364.0" stroke="#f3b27a" stroke-width="4.680000000000001" stroke-opacity="0.42"/>
<path d="M1027.0,290.0Q1150.7,336.6 1280.0,364.0" stroke="#e98f93" stroke-width="1.5" stroke-opacity="0.3825"/>
<path d="M1027.0,290.0Q1153.7,274.0 1281.0,264.0" stroke="#e98f93" stroke-width="2.0999999999999996" stroke-opacity="0.425"/>
<path d="M1027.0,290.0Q1154.3,280.0 1281.0,264.0" stroke="#e98f93" stroke-width="2.0999999999999996" stroke-opacity="0.425"/>
<path d="M1027.0,290.0Q1019.0,417.3 1005.0,544.0" stroke="#e98f93" stroke-width="2.0999999999999996" stroke-opacity="0.425"/>
<path d="M1027.0,290.0Q1013.0,416.7 1005.0,544.0" stroke="#e98f93" stroke-width="2.0999999999999996" stroke-opacity="0.425"/>
<path d="M1027.0,290.0Q970.7,354.1 910.0,414.0" stroke="#e98f93" stroke-width="2.0999999999999996" stroke-opacity="0.425"/>
<path d="M1027.0,290.0Q966.3,349.9 910.0,414.0" stroke="#e98f93" stroke-width="2.0999999999999996" stroke-opacity="0.425"/>
<path d="M1027.0,290.0Q1193.0,345.2 1357.0,406.0" stroke="#e98f93" stroke-width="2.0999999999999996" stroke-opacity="0.425"/>
<path d="M1027.0,290.0Q1191.0,350.8 1357.0,406.0" stroke="#e98f93" stroke-width="2.0999999999999996" stroke-opacity="0.425"/>
<path d="M1195.0,303.0Q1271.3,417.9 1339.0,538.0" stroke="#f3b27a" stroke-width="4.680000000000001" stroke-opacity="0.42"/>
<path d="M1195.0,303.0Q1262.7,423.1 1339.0,538.0" stroke="#f3b27a" stroke-width="4.680000000000001" stroke-opacity="0.42"/>
<path d="M1195.0,303.0Q1258.5,425.7 1339.0,538.0" stroke="#e98f93" stroke-width="1.5" stroke-opacity="0.3825"/>
<path d="M1195.0,303.0Q1152.8,262.8 1118.0,216.0" stroke="#f3b27a" stroke-width="4.680000000000001" stroke-opacity="0.42"/>
<path d="M1195.0,303.0Q1160.2,256.2 1118.0,216.0" stroke="#f3b27a" stroke-width="4.680000000000001" stroke-opacity="0.42"/>
<path d="M1195.0,303.0Q1164.0,252.9 1118.0,216.0" stroke="#e98f93" stroke-width="1.5" stroke-opacity="0.3825"/>
<path d="M1195.0,303.0Q1106.8,367.7 1013.0,424.0" stroke="#f3b27a" stroke-width="4.680000000000001" stroke-opacity="0.42"/>
<path d="M1195.0,303.0Q1101.2,359.3 1013.0,424.0" stroke="#f3b27a" stroke-width="4.680000000000001" stroke-opacity="0.42"/>
<path d="M1195.0,303.0Q1098.5,355.2 1013.0,424.0" stroke="#e98f93" stroke-width="1.5" stroke-opacity="0.3825"/>
<path d="M1195.0,303.0Q1240.4,329.4 1280.0,364.0" stroke="#f3b27a" stroke-width="4.680000000000001" stroke-opacity="0.42"/>
<path d="M1195.0,303.0Q1234.6,337.6 1280.0,364.0" stroke="#f3b27a" stroke-width="4.680000000000001" stroke-opacity="0.42"/>
<path d="M1195.0,303.0Q1231.7,341.6 1280.0,364.0" stroke="#e98f93" stroke-width="1.5" stroke-opacity="0.3825"/>
<path d="M1195.0,303.0Q1236.8,280.8 1281.0,264.0" stroke="#e98f93" stroke-width="2.0999999999999996" stroke-opacity="0.425"/>
<path d="M1195.0,303.0Q1239.2,286.2 1281.0,264.0" stroke="#e98f93" stroke-width="2.0999999999999996" stroke-opacity="0.425"/>
<path d="M1195.0,303.0Q1102.4,425.4 1005.0,544.0" stroke="#e98f93" stroke-width="2.0999999999999996" stroke-opacity="0.425"/>
<path d="M1195.0,303.0Q1097.6,421.6 1005.0,544.0" stroke="#e98f93" stroke-width="2.0999999999999996" stroke-opacity="0.425"/>
<path d="M1195.0,303.0Q1053.6,361.3 910.0,414.0" stroke="#e98f93" stroke-width="2.0999999999999996" stroke-opacity="0.425"/>
<path d="M1195.0,303.0Q1051.4,355.7 910.0,414.0" stroke="#e98f93" stroke-width="2.0999999999999996" stroke-opacity="0.425"/>
<path d="M1195.0,303.0Q1277.6,352.0 1357.0,406.0" stroke="#e98f93" stroke-width="2.0999999999999996" stroke-opacity="0.425"/>
<path d="M1195.0,303.0Q1274.4,357.0 1357.0,406.0" stroke="#e98f93" stroke-width="2.0999999999999996" stroke-opacity="0.425"/>
<path d="M940.0,262.0Q1142.3,395.9 1339.0,538.0" stroke="#f3b27a" stroke-width="4.680000000000001" stroke-opacity="0.42"/>
<path d="M940.0,262.0Q1136.7,404.1 1339.0,538.0" stroke="#f3b27a" stroke-width="4.680000000000001" stroke-opacity="0.42"/>
<path d="M940.0,262.0Q1133.8,408.2 1339.0,538.0" stroke="#e98f93" stroke-width="1.5" stroke-opacity="0.3825"/>
<path d="M940.0,262.0Q1027.7,234.2 1118.0,216.0" stroke="#f3b27a" stroke-width="4.680000000000001" stroke-opacity="0.42"/>
<path d="M940.0,262.0Q1030.3,243.8 1118.0,216.0" stroke="#f3b27a" stroke-width="4.680000000000001" stroke-opacity="0.42"/>
<path d="M940.0,262.0Q1031.5,248.7 1118.0,216.0" stroke="#e98f93" stroke-width="1.5" stroke-opacity="0.3825"/>
<path d="M940.0,262.0Q981.1,340.9 1013.0,424.0" stroke="#f3b27a" stroke-width="4.680000000000001" stroke-opacity="0.42"/>
<path d="M940.0,262.0Q971.9,345.1 1013.0,424.0" stroke="#f3b27a" stroke-width="4.680000000000001" stroke-opacity="0.42"/>
<path d="M940.0,262.0Q967.4,347.1 1013.0,424.0" stroke="#e98f93" stroke-width="1.5" stroke-opacity="0.3825"/>
<path d="M940.0,262.0Q1111.4,308.2 1280.0,364.0" stroke="#f3b27a" stroke-width="4.680000000000001" stroke-opacity="0.42"/>
<path d="M940.0,262.0Q1108.6,317.8 1280.0,364.0" stroke="#f3b27a" stroke-width="4.680000000000001" stroke-opacity="0.42"/>
<path d="M940.0,262.0Q927.9,338.6 910.0,414.0" stroke="#e98f93" stroke-width="2.0999999999999996" stroke-opacity="0.425"/>
<path d="M940.0,262.0Q922.1,337.4 910.0,414.0" stroke="#e98f93" stroke-width="2.0999999999999996" stroke-opacity="0.425"/>
<path d="M1213.0,155.0Q1280.7,344.9 1339.0,538.0" stroke="#f3b27a" stroke-width="4.680000000000001" stroke-opacity="0.42"/>
<path d="M1213.0,155.0Q1271.3,348.1 1339.0,538.0" stroke="#f3b27a" stroke-width="4.680000000000001" stroke-opacity="0.42"/>
<path d="M1213.0,155.0Q1266.5,349.6 1339.0,538.0" stroke="#e98f93" stroke-width="1.5" stroke-opacity="0.3825"/>
<path d="M1213.0,155.0Q1168.2,189.7 1118.0,216.0" stroke="#f3b27a" stroke-width="4.680000000000001" stroke-opacity="0.42"/>
<path d="M1213.0,155.0Q1162.8,181.3 1118.0,216.0" stroke="#f3b27a" stroke-width="4.680000000000001" stroke-opacity="0.42"/>
<path d="M1213.0,155.0Q1160.1,177.1 1118.0,216.0" stroke="#e98f93" stroke-width="1.5" stroke-opacity="0.3825"/>
<path d="M1213.0,155.0Q1117.0,292.5 1013.0,424.0" stroke="#f3b27a" stroke-width="4.680000000000001" stroke-opacity="0.42"/>
<path d="M1213.0,155.0Q1109.0,286.5 1013.0,424.0" stroke="#f3b27a" stroke-width="4.680000000000001" stroke-opacity="0.42"/>
<path d="M1213.0,155.0Q1105.0,283.5 1013.0,424.0" stroke="#e98f93" stroke-width="1.5" stroke-opacity="0.3825"/>
<path d="M1213.0,155.0Q1251.3,258.0 1280.0,364.0" stroke="#f3b27a" stroke-width="4.680000000000001" stroke-opacity="0.42"/>
<path d="M1213.0,155.0Q1241.7,261.0 1280.0,364.0" stroke="#f3b27a" stroke-width="4.680000000000001" stroke-opacity="0.42"/>
<path d="M1213.0,155.0Q1237.0,262.6 1280.0,364.0" stroke="#e98f93" stroke-width="1.5" stroke-opacity="0.3825"/>
<path d="M1213.0,155.0Q1249.5,207.9 1281.0,264.0" stroke="#e98f93" stroke-width="2.0999999999999996" stroke-opacity="0.425"/>
<path d="M1213.0,155.0Q1244.5,211.1 1281.0,264.0" stroke="#e98f93" stroke-width="2.0999999999999996" stroke-opacity="0.425"/>
<path d="M1213.0,155.0Q1287.6,279.0 1357.0,406.0" stroke="#e98f93" stroke-width="2.0999999999999996" stroke-opacity="0.425"/>
<path d="M1213.0,155.0Q1282.4,282.0 1357.0,406.0" stroke="#e98f93" stroke-width="2.0999999999999996" stroke-opacity="0.425"/>
<path d="M1097.0,507.0Q1218.6,517.5 1339.0,538.0" stroke="#f3b27a" stroke-width="4.680000000000001" stroke-opacity="0.42"/>
<path d="M1097.0,507.0Q1217.4,527.5 1339.0,538.0" stroke="#f3b27a" stroke-width="4.680000000000001" stroke-opacity="0.42"/>
<path d="M1097.0,507.0Q1216.7,532.4 1339.0,538.0" stroke="#e98f93" stroke-width="1.5" stroke-opacity="0.3825"/>
<path d="M1097.0,507.0Q1102.5,361.1 1118.0,216.0" stroke="#f3b27a" stroke-width="4.680000000000001" stroke-opacity="0.42"/>
<path d="M1097.0,507.0Q1112.5,361.9 1118.0,216.0" stroke="#f3b27a" stroke-width="4.680000000000001" stroke-opacity="0.42"/>
<path d="M1097.0,507.0Q1117.5,362.2 1118.0,216.0" stroke="#e98f93" stroke-width="1.5" stroke-opacity="0.3825"/>
<path d="M1097.0,507.0Q1051.5,469.1 1013.0,424.0" stroke="#f3b27a" stroke-width="4.680000000000001" stroke-opacity="0.42"/>
<path d="M1097.0,507.0Q1058.5,461.9 1013.0,424.0" stroke="#f3b27a" stroke-width="4.680000000000001" stroke-opacity="0.42"/>
<path d="M1097.0,507.0Q1062.0,458.4 1013.0,424.0" stroke="#e98f93" stroke-width="1.5" stroke-opacity="0.3825"/>
<path d="M1097.0,507.0Q1185.4,431.6 1280.0,364.0" stroke="#f3b27a" stroke-width="4.680000000000001" stroke-opacity="0.42"/>
<path d="M1097.0,507.0Q1191.6,439.4 1280.0,364.0" stroke="#f3b27a" stroke-width="4.680000000000001" stroke-opacity="0.42"/>
<path d="M1097.0,507.0Q1194.7,443.4 1280.0,364.0" stroke="#e98f93" stroke-width="1.5" stroke-opacity="0.3825"/>
<path d="M1097.0,507.0Q1186.6,383.7 1281.0,264.0" stroke="#e98f93" stroke-width="2.0999999999999996" stroke-opacity="0.425"/>
<path d="M1097.0,507.0Q1191.4,387.3 1281.0,264.0" stroke="#e98f93" stroke-width="2.0999999999999996" stroke-opacity="0.425"/>
<path d="M1097.0,507.0Q1052.1,528.3 1005.0,544.0" stroke="#e98f93" stroke-width="2.0999999999999996" stroke-opacity="0.425"/>
<path d="M1097.0,507.0Q1049.9,522.7 1005.0,544.0" stroke="#e98f93" stroke-width="2.0999999999999996" stroke-opacity="0.425"/>
<path d="M1097.0,507.0Q1002.2,463.2 910.0,414.0" stroke="#e98f93" stroke-width="2.0999999999999996" stroke-opacity="0.425"/>
<path d="M1097.0,507.0Q1004.8,457.8 910.0,414.0" stroke="#e98f93" stroke-width="2.0999999999999996" stroke-opacity="0.425"/>
<path d="M1097.0,507.0Q1225.9,453.7 1357.0,406.0" stroke="#e98f93" stroke-width="2.0999999999999996" stroke-opacity="0.425"/>
<path d="M1097.0,507.0Q1228.1,459.3 1357.0,406.0" stroke="#e98f93" stroke-width="2.0999999999999996" stroke-opacity="0.425"/>
<path d="M1106.0,353.0Q1225.6,441.6 1339.0,538.0" stroke="#f3b27a" stroke-width="4.680000000000001" stroke-opacity="0.42"/>
<path d="M1106.0,353.0Q1219.4,449.4 1339.0,538.0" stroke="#f3b27a" stroke-width="4.680000000000001" stroke-opacity="0.42"/>
<path d="M1106.0,353.0Q1216.3,453.3 1339.0,538.0" stroke="#e98f93" stroke-width="1.5" stroke-opacity="0.3825"/>
<path d="M1106.0,353.0Q1107.0,284.1 1118.0,216.0" stroke="#f3b27a" stroke-width="4.680000000000001" stroke-opacity="0.42"/>
<path d="M1106.0,353.0Q1117.0,284.9 1118.0,216.0" stroke="#f3b27a" stroke-width="4.680000000000001" stroke-opacity="0.42"/>
<path d="M1106.0,353.0Q1122.0,285.4 1118.0,216.0" stroke="#e98f93" stroke-width="1.5" stroke-opacity="0.3825"/>
<path d="M1106.0,353.0Q1062.5,392.5 1013.0,424.0" stroke="#f3b27a" stroke-width="4.680000000000001" stroke-opacity="0.42"/>
<path d="M1106.0,353.0Q1056.5,384.5 1013.0,424.0" stroke="#f3b27a" stroke-width="4.680000000000001" stroke-opacity="0.42"/>
<path d="M1106.0,353.0Q1053.4,380.6 1013.0,424.0" stroke="#e98f93" stroke-width="1.5" stroke-opacity="0.3825"/>
<path d="M1106.0,353.0Q1193.3,353.5 1280.0,364.0" stroke="#f3b27a" stroke-width="4.680000000000001" stroke-opacity="0.42"/>
<path d="M1106.0,353.0Q1192.7,363.5 1280.0,364.0" stroke="#f3b27a" stroke-width="4.680000000000001" stroke-opacity="0.42"/>
<path d="M1106.0,353.0Q1192.4,368.5 1280.0,364.0" stroke="#e98f93" stroke-width="1.5" stroke-opacity="0.3825"/>
<path d="M1106.0,353.0Q1192.1,305.8 1281.0,264.0" stroke="#e98f93" stroke-width="2.0999999999999996" stroke-opacity="0.425"/>
<path d="M1106.0,353.0Q1194.9,311.2 1281.0,264.0" stroke="#e98f93" stroke-width="2.0999999999999996" stroke-opacity="0.425"/>
<path d="M1106.0,353.0Q1058.2,449.9 1005.0,544.0" stroke="#e98f93" stroke-width="2.0999999999999996" stroke-opacity="0.425"/>
<path d="M1106.0,353.0Q1052.8,447.1 1005.0,544.0" stroke="#e98f93" stroke-width="2.0999999999999996" stroke-opacity="0.425"/>
<path d="M1106.0,353.0Q1008.9,386.4 910.0,414.0" stroke="#e98f93" stroke-width="2.0999999999999996" stroke-opacity="0.425"/>
<path d="M1106.0,353.0Q1007.1,380.6 910.0,414.0" stroke="#e98f93" stroke-width="2.0999999999999996" stroke-opacity="0.425"/>
<path d="M1106.0,353.0Q1232.1,376.6 1357.0,406.0" stroke="#e98f93" stroke-width="2.0999999999999996" stroke-opacity="0.425"/>
<path d="M1106.0,353.0Q1230.9,382.4 1357.0,406.0" stroke="#e98f93" stroke-width="2.0999999999999996" stroke-opacity="0.425"/>
<path d="M1206.0,464.0Q1274.9,496.6 1339.0,538.0" stroke="#f3b27a" stroke-width="4.680000000000001" stroke-opacity="0.42"/>
<path d="M1206.0,464.0Q1270.1,505.4 1339.0,538.0" stroke="#f3b27a" stroke-width="4.680000000000001" stroke-opacity="0.42"/>
<path d="M1206.0,464.0Q1267.6,509.7 1339.0,538.0" stroke="#e98f93" stroke-width="1.5" stroke-opacity="0.3825"/>
<path d="M1206.0,464.0Q1157.3,341.7 1118.0,216.0" stroke="#f3b27a" stroke-width="4.680000000000001" stroke-opacity="0.42"/>
<path d="M1206.0,464.0Q1166.7,338.3 1118.0,216.0" stroke="#f3b27a" stroke-width="4.680000000000001" stroke-opacity="0.42"/>
<path d="M1206.0,464.0Q1171.4,336.7 1118.0,216.0" stroke="#e98f93" stroke-width="1.5" stroke-opacity="0.3825"/>
<path d="M1206.0,464.0Q1108.5,448.9 1013.0,424.0" stroke="#f3b27a" stroke-width="4.680000000000001" stroke-opacity="0.42"/>
<path d="M1206.0,464.0Q1110.5,439.1 1013.0,424.0" stroke="#f3b27a" stroke-width="4.680000000000001" stroke-opacity="0.42"/>
<path d="M1206.0,464.0Q1111.5,434.2 1013.0,424.0" stroke="#e98f93" stroke-width="1.5" stroke-opacity="0.3825"/>
<path d="M1206.0,464.0Q1239.0,411.0 1280.0,364.0" stroke="#f3b27a" stroke-width="4.680000000000001" stroke-opacity="0.42"/>
<path d="M1206.0,464.0Q1247.0,417.0 1280.0,364.0" stroke="#f3b27a" stroke-width="4.680000000000001" stroke-opacity="0.42"/>
<path d="M1206.0,464.0Q1251.0,419.9 1280.0,364.0" stroke="#e98f93" stroke-width="1.5" stroke-opacity="0.3825"/>
<path d="M1206.0,464.0Q1240.7,362.9 1281.0,264.0" stroke="#e98f93" stroke-width="2.0999999999999996" stroke-opacity="0.425"/>
<path d="M1206.0,464.0Q1246.3,365.1 1281.0,264.0" stroke="#e98f93" stroke-width="2.0999999999999996" stroke-opacity="0.425"/>
<path d="M1206.0,464.0Q1106.6,506.8 1005.0,544.0" stroke="#e98f93" stroke-width="2.0999999999999996" stroke-opacity="0.425"/>
<path d="M1206.0,464.0Q1104.4,501.2 1005.0,544.0" stroke="#e98f93" stroke-width="2.0999999999999996" stroke-opacity="0.425"/>
<path d="M1206.0,464.0Q1057.5,442.0 910.0,414.0" stroke="#e98f93" stroke-width="2.0999999999999996" stroke-opacity="0.425"/>
<path d="M1206.0,464.0Q1058.5,436.0 910.0,414.0" stroke="#e98f93" stroke-width="2.0999999999999996" stroke-opacity="0.425"/>
<path d="M1206.0,464.0Q1280.4,432.2 1357.0,406.0" stroke="#e98f93" stroke-width="2.0999999999999996" stroke-opacity="0.425"/>
<path d="M1206.0,464.0Q1282.6,437.8 1357.0,406.0" stroke="#e98f93" stroke-width="2.0999999999999996" stroke-opacity="0.425"/>
<path d="M1280.0,364.0Q1095.5,393.0 910.0,414.0" stroke="#e98f93" stroke-width="1.9500000000000002" stroke-opacity="0.3825"/>
<path d="M1280.0,364.0Q1094.5,385.0 910.0,414.0" stroke="#e98f93" stroke-width="1.9500000000000002" stroke-opacity="0.3825"/>
<path d="M1280.0,364.0Q1144.7,457.3 1005.0,544.0" stroke="#e98f93" stroke-width="1.9500000000000002" stroke-opacity="0.3825"/>
<path d="M1280.0,364.0Q1140.3,450.7 1005.0,544.0" stroke="#e98f93" stroke-width="1.9500000000000002" stroke-opacity="0.3825"/>
<path d="M1280.0,364.0L1118.0,216.0" stroke="#f3b27a" stroke-width="3.25" stroke-opacity="0.4"/>
<path d="M1280.0,364.0L1339.0,538.0" stroke="#f3b27a" stroke-width="3.25" stroke-opacity="0.4"/>
<path d="M1281.0,264.0L910.0,414.0" stroke="#e98f93" stroke-width="1.7999999999999998" stroke-opacity="0.3825"/>
<path d="M1281.0,264.0Q1149.1,347.4 1013.0,424.0" stroke="#e98f93" stroke-width="1.9500000000000002" stroke-opacity="0.3825"/>
<path d="M1281.0,264.0Q1144.9,340.6 1013.0,424.0" stroke="#e98f93" stroke-width="1.9500000000000002" stroke-opacity="0.3825"/>
<path d="M1281.0,264.0L1005.0,544.0" stroke="#e98f93" stroke-width="1.7999999999999998" stroke-opacity="0.3825"/>
<path d="M1357.0,406.0L1005.0,544.0" stroke="#e98f93" stroke-width="1.7999999999999998" stroke-opacity="0.3825"/>
<path d="M1357.0,406.0L910.0,414.0" stroke="#e98f93" stroke-width="1.7999999999999998" stroke-opacity="0.3825"/>
<path d="M1118.0,216.0Q1070.0,322.3 1013.0,424.0" stroke="#f3b27a" stroke-width="3.9000000000000004" stroke-opacity="0.45"/>
<path d="M1118.0,216.0Q1061.0,317.7 1013.0,424.0" stroke="#f3b27a" stroke-width="3.9000000000000004" stroke-opacity="0.45"/>
<path d="M1118.0,216.0L910.0,414.0" stroke="#e98f93" stroke-width="1.7999999999999998" stroke-opacity="0.3825"/>
<path d="M1339.0,538.0L1118.0,216.0" stroke="#d4cb88" stroke-width="2.5" stroke-opacity="0.5"/>
<path d="M1013.0,424.0Q1145.8,391.1 1280.0,364.0" stroke="#e98f93" stroke-width="2.25" stroke-opacity="0.4675"/>
<path d="M1013.0,424.0Q1147.2,396.9 1280.0,364.0" stroke="#e98f93" stroke-width="2.25" stroke-opacity="0.4675"/>
<path d="M1013.0,424.0L1013.0,695.0" stroke="#d4cb88" stroke-width="3.0" stroke-opacity="0.55"/>
<path d="M1013.0,424.0L1339.0,538.0" stroke="#f3b27a" stroke-width="3.25" stroke-opacity="0.5"/>
<path d="M1013.0,424.0L1118.0,216.0" stroke="#f3b27a" stroke-width="3.25" stroke-opacity="0.5"/>
<path d="M1206.0,464.0L1532.0,478.0" stroke="#8fdc8f" stroke-width="6.0" stroke-opacity="0.62"/>
<path d="M1206.0,464.0Q1274.0,498.4 1339.0,538.0" stroke="#f3b27a" stroke-width="3.9000000000000004" stroke-opacity="0.5"/>
<path d="M1206.0,464.0Q1271.0,503.6 1339.0,538.0" stroke="#f3b27a" stroke-width="3.9000000000000004" stroke-opacity="0.5"/>
<path d="M1112.0,46.0L1009.0,134.0" stroke="#8fdc8f" stroke-width="1.0" stroke-opacity="0.6"/>
<path d="M1112.0,46.0Q1141.4,258.9 1206.0,464.0" stroke="#e98f93" stroke-width="2.7" stroke-opacity="0.4675"/>
<path d="M1112.0,46.0Q1141.4,258.9 1206.0,464.0" stroke="#fff" stroke-width="0.9" stroke-opacity="0.4"/>
<path d="M1112.0,46.0Q1135.6,260.3 1206.0,464.0" stroke="#e98f93" stroke-width="2.7" stroke-opacity="0.4675"/>
<path d="M1112.0,46.0Q1135.6,260.3 1206.0,464.0" stroke="#fff" stroke-width="0.9" stroke-opacity="0.4"/>
<path d="M1112.0,46.0Q1129.7,261.6 1206.0,464.0" stroke="#e98f93" stroke-width="2.7" stroke-opacity="0.4675"/>
<path d="M1112.0,46.0Q1129.7,261.6 1206.0,464.0" stroke="#fff" stroke-width="0.9" stroke-opacity="0.4"/>
<path d="M1112.0,46.0Q1164.9,253.7 1206.0,464.0" stroke="#e98f93" stroke-width="2.7" stroke-opacity="0.4675"/>
<path d="M1112.0,46.0Q1164.9,253.7 1206.0,464.0" stroke="#fff" stroke-width="0.9" stroke-opacity="0.4"/>
<path d="M1112.0,46.0L1206.0,464.0" stroke="#e98f93" stroke-width="2.7" stroke-opacity="0.4675"/>
<path d="M1112.0,46.0L1206.0,464.0" stroke="#fff" stroke-width="0.9" stroke-opacity="0.4"/>
<path d="M1009.0,134.0Q1110.1,297.5 1206.0,464.0" stroke="#f3b27a" stroke-width="3.9000000000000004" stroke-opacity="0.5"/>
<path d="M1009.0,134.0Q1104.9,300.5 1206.0,464.0" stroke="#f3b27a" stroke-width="3.9000000000000004" stroke-opacity="0.5"/>
<path d="M1009.0,134.0Q1110.9,296.9 1206.0,464.0" stroke="#e98f93" stroke-width="2.25" stroke-opacity="0.4675"/>
<path d="M1009.0,134.0Q1104.1,301.1 1206.0,464.0" stroke="#e98f93" stroke-width="2.25" stroke-opacity="0.4675"/>
<path d="M1009.0,134.0Q1014.0,279.0 1013.0,424.0" stroke="#c6a3d4" stroke-width="1.2" stroke-opacity="0.55"/>
<path d="M1009.0,134.0Q1008.0,279.0 1013.0,424.0" stroke="#c6a3d4" stroke-width="1.2" stroke-opacity="0.55"/>
<path d="M1009.0,134.0L1027.0,290.0" stroke="#8fdc8f" stroke-width="1.0" stroke-opacity="0.6"/>
<path d="M1009.0,134.0L1097.0,507.0" stroke="#8fdc8f" stroke-width="1.0" stroke-opacity="0.6"/>
<path d="M1373.0,240.0Q1328.5,257.8 1281.0,264.0" stroke="#e98f93" stroke-width="2.25" stroke-opacity="0.4675"/>
<path d="M1373.0,240.0L1281.0,264.0" stroke="#e98f93" stroke-width="2.25" stroke-opacity="0.4675"/>
<path d="M1373.0,240.0Q1325.5,246.2 1281.0,264.0" stroke="#e98f93" stroke-width="2.25" stroke-opacity="0.4675"/>
<path d="M1373.0,240.0Q1292.7,354.4 1206.0,464.0" stroke="#e98f93" stroke-width="2.0999999999999996" stroke-opacity="0.4675"/>
<path d="M1373.0,240.0Q1286.3,349.6 1206.0,464.0" stroke="#e98f93" stroke-width="2.0999999999999996" stroke-opacity="0.4675"/>
<path d="M1373.0,240.0L1097.0,507.0" stroke="#e98f93" stroke-width="1.9500000000000002" stroke-opacity="0.4675"/>
<path d="M1373.0,240.0Q1285.3,275.3 1195.0,303.0" stroke="#e98f93" stroke-width="1.9500000000000002" stroke-opacity="0.4675"/>
<path d="M1373.0,240.0Q1282.7,267.7 1195.0,303.0" stroke="#e98f93" stroke-width="1.9500000000000002" stroke-opacity="0.4675"/>
<path d="M1373.0,240.0L1280.0,364.0" stroke="#e98f93" stroke-width="1.9500000000000002" stroke-opacity="0.4675"/>
<path d="M1281.0,264.0L1357.0,406.0" stroke="#e98f93" stroke-width="1.7999999999999998" stroke-opacity="0.4675"/>
<path d="M1280.0,364.0Q1321.4,379.7 1357.0,406.0" stroke="#e98f93" stroke-width="2.25" stroke-opacity="0.4675"/>
<path d="M1280.0,364.0L1357.0,406.0" stroke="#e98f93" stroke-width="2.25" stroke-opacity="0.4675"/>
<path d="M1280.0,364.0Q1315.6,390.3 1357.0,406.0" stroke="#e98f93" stroke-width="2.25" stroke-opacity="0.4675"/>
<path d="M1013.0,695.0Q1104.9,575.7 1206.0,464.0" stroke="#e98f93" stroke-width="2.0999999999999996" stroke-opacity="0.4675"/>
<path d="M1013.0,695.0L1206.0,464.0" stroke="#e98f93" stroke-width="2.0999999999999996" stroke-opacity="0.4675"/>
<path d="M1013.0,695.0Q1114.1,583.3 1206.0,464.0" stroke="#e98f93" stroke-width="2.0999999999999996" stroke-opacity="0.4675"/>
<path d="M1013.0,695.0Q1144.2,527.6 1280.0,364.0" stroke="#e98f93" stroke-width="1.9500000000000002" stroke-opacity="0.4675"/>
<path d="M1013.0,695.0Q1148.8,531.4 1280.0,364.0" stroke="#e98f93" stroke-width="1.9500000000000002" stroke-opacity="0.4675"/>
<path d="M1013.0,695.0L1097.0,507.0" stroke="#e98f93" stroke-width="1.9500000000000002" stroke-opacity="0.4675"/>
<path d="M1013.0,695.0L1195.0,303.0" stroke="#e98f93" stroke-width="1.7999999999999998" stroke-opacity="0.4675"/>
<path d="M1013.0,695.0L1106.0,353.0" stroke="#e98f93" stroke-width="1.7999999999999998" stroke-opacity="0.4675"/>
<path d="M1181.0,720.0L1206.0,464.0" stroke="#f3b27a" stroke-width="5.8500000000000005" stroke-opacity="0.55"/>
<path d="M1181.0,720.0Q1094.4,573.5 1013.0,424.0" stroke="#e98f93" stroke-width="2.25" stroke-opacity="0.4675"/>
<path d="M1181.0,720.0Q1099.6,570.5 1013.0,424.0" stroke="#e98f93" stroke-width="2.25" stroke-opacity="0.4675"/>
<path d="M1005.0,544.0Q1003.0,483.6 1013.0,424.0" stroke="#f3b27a" stroke-width="5.2" stroke-opacity="0.5"/>
<path d="M1005.0,544.0Q1015.0,484.4 1013.0,424.0" stroke="#f3b27a" stroke-width="5.2" stroke-opacity="0.5"/>
<path d="M1005.0,544.0L1118.0,216.0" stroke="#f3b27a" stroke-width="3.9000000000000004" stroke-opacity="0.45"/>
<path d="M1005.0,544.0L1195.0,303.0" stroke="#f3b27a" stroke-width="3.25" stroke-opacity="0.45"/>
<path d="M1005.0,544.0L1013.0,695.0" stroke="#d4cb88" stroke-width="2.5" stroke-opacity="0.5"/>
<path d="M1281.0,264.0L1118.0,216.0" stroke="#8ea6dc" stroke-width="1.0" stroke-opacity="0.55"/>
<path d="M1005.0,544.0Q1048.8,519.9 1097.0,507.0" stroke="#e98f93" stroke-width="2.4000000000000004" stroke-opacity="0.4675"/>
<path d="M1005.0,544.0L1097.0,507.0" stroke="#e98f93" stroke-width="2.4000000000000004" stroke-opacity="0.4675"/>
<path d="M1005.0,544.0Q1053.2,531.1 1097.0,507.0" stroke="#e98f93" stroke-width="2.4000000000000004" stroke-opacity="0.4675"/>
<path d="M910.0,414.0Q961.8,416.0 1013.0,424.0" stroke="#e98f93" stroke-width="2.25" stroke-opacity="0.4675"/>
<path d="M910.0,414.0Q961.2,422.0 1013.0,424.0" stroke="#e98f93" stroke-width="2.25" stroke-opacity="0.4675"/>
<path d="M1281.0,264.0Q1283.5,314.0 1280.0,364.0" stroke="#e98f93" stroke-width="2.25" stroke-opacity="0.4675"/>
<path d="M1281.0,264.0Q1277.5,314.0 1280.0,364.0" stroke="#e98f93" stroke-width="2.25" stroke-opacity="0.4675"/>
<path d="M1281.0,264.0L1339.0,538.0" stroke="#e98f93" stroke-width="1.9500000000000002" stroke-opacity="0.4675"/>
<path d="M1357.0,406.0L1013.0,424.0" stroke="#e98f93" stroke-width="1.9500000000000002" stroke-opacity="0.4675"/>
<path d="M1213.0,155.0L1118.0,216.0" stroke="#c6a3d4" stroke-width="1.0" stroke-opacity="0.55"/>
<path d="M1118.0,216.0L1280.0,364.0" stroke="#c6a3d4" stroke-width="1.0" stroke-opacity="0.55"/>
</g>
<circle cx="189" cy="34" r="16" fill="#2f2f2f"/>
<circle cx="518" cy="68" r="17" fill="#2f2f2f"/>
<circle cx="715" cy="93" r="16" fill="#2f2f2f"/>
<circle cx="342" cy="129" r="15" fill="#2f2f2f"/><path d="M342,129L356.62,132.34A15,15 0 0 1 348.51,142.51Z" fill="#487472"/><path d="M342,129L348.51,142.51A15,15 0 0 1 335.49,142.51Z" fill="#6d3737"/><path d="M342,129L335.49,142.51A15,15 0 0 1 327.38,132.34Z" fill="#3e5a7c"/><path d="M342,129L330.27,119.65A15,15 0 0 1 342.00,114.00Z" fill="#4d4773"/>
<circle cx="88" cy="230" r="15" fill="#2f2f2f"/>
<circle cx="432" cy="251" r="19" fill="#2f2f2f"/><path d="M432,251L417.15,239.15A19,19 0 0 1 432.00,232.00Z" fill="#4d4773"/>
<circle cx="326" cy="287" r="17" fill="#2f2f2f"/>
<circle cx="622" cy="301" r="18" fill="#2f2f2f"/><path d="M622,301L622.00,283.00A18,18 0 0 1 636.07,289.78Z" fill="#3e6c49"/>
<circle cx="525" cy="336" r="24" fill="#2f2f2f"/><path d="M525,336L525.00,312.00A24,24 0 0 1 543.76,321.04Z" fill="#3e6c49"/><path d="M525,336L525.00,312.00A24,24 0 0 1 543.76,321.04Z" fill="url(#hatch)"/><path d="M525,336L548.40,341.34A24,24 0 0 1 535.41,357.62Z" fill="#487472"/><path d="M525,336L548.40,341.34A24,24 0 0 1 535.41,357.62Z" fill="url(#hatch)"/><path d="M525,336L535.41,357.62A24,24 0 0 1 514.59,357.62Z" fill="#6d3737"/><path d="M525,336L535.41,357.62A24,24 0 0 1 514.59,357.62Z" fill="url(#hatch)"/><path d="M525,336L514.59,357.62A24,24 0 0 1 501.60,341.34Z" fill="#3e5a7c"/><path d="M525,336L514.59,357.62A24,24 0 0 1 501.60,341.34Z" fill="url(#hatch)"/><path d="M525,336L506.24,321.04A24,24 0 0 1 525.00,312.00Z" fill="#4d4773"/><path d="M525,336L506.24,321.04A24,24 0 0 1 525.00,312.00Z" fill="url(#hatch)"/>
<circle cx="785" cy="385" r="17" fill="#2f2f2f"/>
<circle cx="390" cy="399" r="40" fill="#2f2f2f"/><path d="M390,399L390.00,359.00A40,40 0 0 1 421.27,374.06Z" fill="#3e6c49"/><path d="M390,399L390.00,359.00A40,40 0 0 1 421.27,374.06Z" fill="url(#hatch)"/><path d="M390,399L421.27,374.06A40,40 0 0 1 429.00,407.90Z" fill="#7b4878"/><path d="M390,399L421.27,374.06A40,40 0 0 1 429.00,407.90Z" fill="url(#hatch)"/><path d="M390,399L429.00,407.90A40,40 0 0 1 407.36,435.04Z" fill="#487472"/><path d="M390,399L429.00,407.90A40,40 0 0 1 407.36,435.04Z" fill="url(#hatch)"/><path d="M390,399L407.36,435.04A40,40 0 0 1 372.64,435.04Z" fill="#6d3737"/><path d="M390,399L407.36,435.04A40,40 0 0 1 372.64,435.04Z" fill="url(#hatch)"/><path d="M390,399L372.64,435.04A40,40 0 0 1 351.00,407.90Z" fill="#3e5a7c"/><path d="M390,399L372.64,435.04A40,40 0 0 1 351.00,407.90Z" fill="url(#hatch)"/><path d="M390,399L351.00,407.90A40,40 0 0 1 358.73,374.06Z" fill="#8b6b2f"/><path d="M390,399L351.00,407.90A40,40 0 0 1 358.73,374.06Z" fill="url(#hatch)"/><path d="M390,399L358.73,374.06A40,40 0 0 1 390.00,359.00Z" fill="#4d4773"/><path d="M390,399L358.73,374.06A40,40 0 0 1 390.00,359.00Z" fill="url(#hatch)"/>
<circle cx="533" cy="400" r="28" fill="#2f2f2f"/><path d="M533,400L533.00,372.00A28,28 0 0 1 554.89,382.54Z" fill="#3e6c49"/><path d="M533,400L533.00,372.00A28,28 0 0 1 554.89,382.54Z" fill="url(#hatch)"/><path d="M533,400L554.89,382.54A28,28 0 0 1 560.30,406.23Z" fill="#7b4878"/><path d="M533,400L554.89,382.54A28,28 0 0 1 560.30,406.23Z" fill="url(#hatch)"/><path d="M533,400L560.30,406.23A28,28 0 0 1 545.15,425.23Z" fill="#487472"/><path d="M533,400L560.30,406.23A28,28 0 0 1 545.15,425.23Z" fill="url(#hatch)"/><path d="M533,400L545.15,425.23A28,28 0 0 1 520.85,425.23Z" fill="#6d3737"/><path d="M533,400L545.15,425.23A28,28 0 0 1 520.85,425.23Z" fill="url(#hatch)"/><path d="M533,400L520.85,425.23A28,28 0 0 1 505.70,406.23Z" fill="#3e5a7c"/><path d="M533,400L520.85,425.23A28,28 0 0 1 505.70,406.23Z" fill="url(#hatch)"/><path d="M533,400L505.70,406.23A28,28 0 0 1 511.11,382.54Z" fill="#8b6b2f"/><path d="M533,400L505.70,406.23A28,28 0 0 1 511.11,382.54Z" fill="url(#hatch)"/><path d="M533,400L511.11,382.54A28,28 0 0 1 533.00,372.00Z" fill="#4d4773"/><path d="M533,400L511.11,382.54A28,28 0 0 1 533.00,372.00Z" fill="url(#hatch)"/>
<circle cx="64" cy="420" r="16" fill="#2f2f2f"/><path d="M64,420L51.49,410.02A16,16 0 0 1 64.00,404.00Z" fill="#4d4773"/>
<circle cx="270" cy="414" r="16" fill="#2f2f2f"/>
<circle cx="458" cy="457" r="24" fill="#2f2f2f"/><path d="M458,457L458.00,433.00A24,24 0 0 1 476.76,442.04Z" fill="#3e6c49"/><path d="M458,457L458.00,433.00A24,24 0 0 1 476.76,442.04Z" fill="url(#hatch)"/><path d="M458,457L476.76,442.04A24,24 0 0 1 481.40,462.34Z" fill="#7b4878"/><path d="M458,457L476.76,442.04A24,24 0 0 1 481.40,462.34Z" fill="url(#hatch)"/><path d="M458,457L481.40,462.34A24,24 0 0 1 468.41,478.62Z" fill="#487472"/><path d="M458,457L481.40,462.34A24,24 0 0 1 468.41,478.62Z" fill="url(#hatch)"/><path d="M458,457L468.41,478.62A24,24 0 0 1 447.59,478.62Z" fill="#6d3737"/><path d="M458,457L468.41,478.62A24,24 0 0 1 447.59,478.62Z" fill="url(#hatch)"/><path d="M458,457L447.59,478.62A24,24 0 0 1 434.60,462.34Z" fill="#3e5a7c"/><path d="M458,457L447.59,478.62A24,24 0 0 1 434.60,462.34Z" fill="url(#hatch)"/><path d="M458,457L434.60,462.34A24,24 0 0 1 439.24,442.04Z" fill="#8b6b2f"/><path d="M458,457L434.60,462.34A24,24 0 0 1 439.24,442.04Z" fill="url(#hatch)"/>
<circle cx="124" cy="491" r="16" fill="#2f2f2f"/>
<circle cx="208" cy="528" r="16" fill="#2f2f2f"/>
<circle cx="352" cy="548" r="20" fill="#2f2f2f"/>
<circle cx="661" cy="542" r="16" fill="#2f2f2f"/><path d="M661,542L676.60,545.56A16,16 0 0 1 667.94,556.42Z" fill="#487472"/><path d="M661,542L654.06,556.42A16,16 0 0 1 645.40,545.56Z" fill="#3e5a7c"/>
<circle cx="538" cy="674" r="40" fill="#2f2f2f"/><path d="M538,674L538.00,634.00A40,40 0 0 1 569.27,649.06Z" fill="#3e6c49"/><path d="M538,674L538.00,634.00A40,40 0 0 1 569.27,649.06Z" fill="url(#hatch)"/><path d="M538,674L569.27,649.06A40,40 0 0 1 577.00,682.90Z" fill="#7b4878"/><path d="M538,674L569.27,649.06A40,40 0 0 1 577.00,682.90Z" fill="url(#hatch)"/><path d="M538,674L577.00,682.90A40,40 0 0 1 555.36,710.04Z" fill="#487472"/><path d="M538,674L577.00,682.90A40,40 0 0 1 555.36,710.04Z" fill="url(#hatch)"/><path d="M538,674L555.36,710.04A40,40 0 0 1 520.64,710.04Z" fill="#6d3737"/><path d="M538,674L555.36,710.04A40,40 0 0 1 520.64,710.04Z" fill="url(#hatch)"/><path d="M538,674L520.64,710.04A40,40 0 0 1 499.00,682.90Z" fill="#3e5a7c"/><path d="M538,674L520.64,710.04A40,40 0 0 1 499.00,682.90Z" fill="url(#hatch)"/><path d="M538,674L499.00,682.90A40,40 0 0 1 506.73,649.06Z" fill="#8b6b2f"/><path d="M538,674L499.00,682.90A40,40 0 0 1 506.73,649.06Z" fill="url(#hatch)"/>
<circle cx="366" cy="714" r="19" fill="#2f2f2f"/>
<text class="la" transform="translate(189,34) scale(0.9,1)" x="0" y="0">ZBTB24</text>
<text class="la" transform="translate(518,68) scale(0.9,1)" x="0" y="0">TAB3</text>
<text class="la" transform="translate(715,93) scale(0.9,1)" x="0" y="0">RAB39B</text>
<text class="la" transform="translate(342,129) scale(0.9,1)" x="0" y="0">SH3GLB1</text>
<text class="la" transform="translate(88,230) scale(0.9,1)" x="0" y="0">CASP10</text>
<text class="la" transform="translate(432,251) scale(0.9,1)" x="0" y="0">UVRAG</text>
<text class="la" transform="translate(326,287) scale(0.9,1)" x="0" y="0">XPO1</text>
<text class="la" transform="translate(622,301) scale(0.9,1)" x="0" y="0">NRBF2</text>
<text class="la" transform="translate(525,336) scale(0.9,1)" x="0" y="0">PIK3R4</text>
<text class="la" transform="translate(785,385) scale(0.9,1)" x="0" y="0">GLIPR2</text>
<text class="la" transform="translate(390,399) scale(0.9,1)" x="0" y="0">BECN1</text>
<text class="la" transform="translate(533,400) scale(0.9,1)" x="0" y="0">PIK3C3</text>
<text class="la" transform="translate(64,420) scale(0.9,1)" x="0" y="0">BCL2L1</text>
<text class="la" transform="translate(270,414) scale(0.9,1)" x="0" y="0">AMBRA1</text>
<text class="la" transform="translate(458,457) scale(0.9,1)" x="0" y="0">ATG14</text>
<text class="la" transform="translate(124,491) scale(0.9,1)" x="0" y="0">BCL2</text>
<text class="la" transform="translate(208,528) scale(0.9,1)" x="0" y="0">PRKN</text>
<text class="la" transform="translate(352,548) scale(0.9,1)" x="0" y="0">RUBCN</text>
<text class="la" transform="translate(661,542) scale(0.9,1)" x="0" y="0">TSC1</text>
<text class="la" transform="translate(538,674) scale(0.9,1)" x="0" y="0">BECN2</text>
<text class="la" transform="translate(366,714) scale(0.9,1)" x="0" y="0">SMAD2</text>
<circle cx="1112" cy="46" r="29" fill="#3c3c3c"/>
<circle cx="1009" cy="134" r="20" fill="#3c3c3c"/><path d="M1009,134L1009.00,114.00A20,20 0 0 1 1028.02,127.82Z" fill="#874c4c"/><path d="M1009,134L1028.02,127.82A20,20 0 0 1 1020.76,150.18Z" fill="#4a74a0"/>
<circle cx="1213" cy="155" r="18" fill="#3c3c3c"/><path d="M1213,155L1213.00,137.00A18,18 0 0 1 1230.12,149.44Z" fill="#874c4c"/><path d="M1213,155L1230.12,149.44A18,18 0 0 1 1223.58,169.56Z" fill="#4a74a0"/><path d="M1213,155L1223.58,169.56A18,18 0 0 1 1202.42,169.56Z" fill="#9c772e"/><path d="M1213,155L1202.42,169.56A18,18 0 0 1 1195.88,149.44Z" fill="#66579a"/><path d="M1213,155L1195.88,149.44A18,18 0 0 1 1213.00,137.00Z" fill="#4d8a5a"/>
<circle cx="1118" cy="216" r="25" fill="#3c3c3c"/>
<circle cx="1373" cy="240" r="18" fill="#3c3c3c"/>
<circle cx="940" cy="262" r="18" fill="#3c3c3c"/><path d="M940,262L940.00,244.00A18,18 0 0 1 957.12,256.44Z" fill="#874c4c"/><path d="M940,262L957.12,256.44A18,18 0 0 1 950.58,276.56Z" fill="#4a74a0"/><path d="M940,262L950.58,276.56A18,18 0 0 1 929.42,276.56Z" fill="#9c772e"/><path d="M940,262L929.42,276.56A18,18 0 0 1 922.88,256.44Z" fill="#66579a"/><path d="M940,262L922.88,256.44A18,18 0 0 1 940.00,244.00Z" fill="#4d8a5a"/>
<circle cx="1281" cy="264" r="19" fill="#3c3c3c"/><path d="M1281,264L1281.00,245.00A19,19 0 0 1 1299.07,258.13Z" fill="#874c4c"/><path d="M1281,264L1292.17,279.37A19,19 0 0 1 1269.83,279.37Z" fill="#9c772e"/>
<circle cx="1027" cy="290" r="18" fill="#3c3c3c"/><path d="M1027,290L1027.00,272.00A18,18 0 0 1 1044.12,284.44Z" fill="#874c4c"/><path d="M1027,290L1044.12,284.44A18,18 0 0 1 1037.58,304.56Z" fill="#4a74a0"/><path d="M1027,290L1037.58,304.56A18,18 0 0 1 1016.42,304.56Z" fill="#9c772e"/><path d="M1027,290L1016.42,304.56A18,18 0 0 1 1009.88,284.44Z" fill="#66579a"/><path d="M1027,290L1009.88,284.44A18,18 0 0 1 1027.00,272.00Z" fill="#4d8a5a"/>
<circle cx="1195" cy="303" r="22" fill="#3c3c3c"/><path d="M1195,303L1195.00,281.00A22,22 0 0 1 1215.92,296.20Z" fill="#874c4c"/><path d="M1195,303L1195.00,281.00A22,22 0 0 1 1215.92,296.20Z" fill="url(#hatch)"/><path d="M1195,303L1215.92,296.20A22,22 0 0 1 1207.93,320.80Z" fill="#4a74a0"/><path d="M1195,303L1215.92,296.20A22,22 0 0 1 1207.93,320.80Z" fill="url(#hatch)"/><path d="M1195,303L1207.93,320.80A22,22 0 0 1 1182.07,320.80Z" fill="#9c772e"/><path d="M1195,303L1207.93,320.80A22,22 0 0 1 1182.07,320.80Z" fill="url(#hatch)"/><path d="M1195,303L1182.07,320.80A22,22 0 0 1 1174.08,296.20Z" fill="#66579a"/><path d="M1195,303L1182.07,320.80A22,22 0 0 1 1174.08,296.20Z" fill="url(#hatch)"/><path d="M1195,303L1174.08,296.20A22,22 0 0 1 1195.00,281.00Z" fill="#4d8a5a"/><path d="M1195,303L1174.08,296.20A22,22 0 0 1 1195.00,281.00Z" fill="url(#hatch)"/>
<circle cx="1106" cy="353" r="19" fill="#3c3c3c"/><path d="M1106,353L1106.00,334.00A19,19 0 0 1 1124.07,347.13Z" fill="#874c4c"/><path d="M1106,353L1124.07,347.13A19,19 0 0 1 1117.17,368.37Z" fill="#4a74a0"/><path d="M1106,353L1117.17,368.37A19,19 0 0 1 1094.83,368.37Z" fill="#9c772e"/><path d="M1106,353L1094.83,368.37A19,19 0 0 1 1087.93,347.13Z" fill="#66579a"/><path d="M1106,353L1087.93,347.13A19,19 0 0 1 1106.00,334.00Z" fill="#4d8a5a"/>
<circle cx="1280" cy="364" r="19" fill="#3c3c3c"/><path d="M1280,364L1280.00,345.00A19,19 0 0 1 1298.07,358.13Z" fill="#874c4c"/><path d="M1280,364L1298.07,358.13A19,19 0 0 1 1291.17,379.37Z" fill="#4a74a0"/>
<circle cx="910" cy="414" r="19" fill="#3c3c3c"/><path d="M910,414L910.00,395.00A19,19 0 0 1 928.07,408.13Z" fill="#874c4c"/>
<circle cx="1357" cy="406" r="17" fill="#3c3c3c"/><path d="M1357,406L1357.00,389.00A17,17 0 0 1 1373.17,400.75Z" fill="#874c4c"/>
<circle cx="1013" cy="424" r="25" fill="#3c3c3c"/><path d="M1013,424L1013.00,399.00A25,25 0 0 1 1036.78,416.27Z" fill="#874c4c"/><path d="M1013,424L1013.00,399.00A25,25 0 0 1 1036.78,416.27Z" fill="url(#hatch)"/><path d="M1013,424L1036.78,416.27A25,25 0 0 1 1027.69,444.23Z" fill="#4a74a0"/><path d="M1013,424L1036.78,416.27A25,25 0 0 1 1027.69,444.23Z" fill="url(#hatch)"/><path d="M1013,424L998.31,444.23A25,25 0 0 1 989.22,416.27Z" fill="#66579a"/><path d="M1013,424L998.31,444.23A25,25 0 0 1 989.22,416.27Z" fill="url(#hatch)"/><path d="M1013,424L989.22,416.27A25,25 0 0 1 1013.00,399.00Z" fill="#4d8a5a"/><path d="M1013,424L989.22,416.27A25,25 0 0 1 1013.00,399.00Z" fill="url(#hatch)"/>
<circle cx="1206" cy="464" r="32" fill="#3c3c3c"/><path d="M1206,464L1206.00,432.00A32,32 0 0 1 1236.43,454.11Z" fill="#874c4c"/><path d="M1206,464L1206.00,432.00A32,32 0 0 1 1236.43,454.11Z" fill="url(#hatch)"/><path d="M1206,464L1236.43,454.11A32,32 0 0 1 1224.81,489.89Z" fill="#4a74a0"/><path d="M1206,464L1236.43,454.11A32,32 0 0 1 1224.81,489.89Z" fill="url(#hatch)"/><path d="M1206,464L1224.81,489.89A32,32 0 0 1 1187.19,489.89Z" fill="#9c772e"/><path d="M1206,464L1224.81,489.89A32,32 0 0 1 1187.19,489.89Z" fill="url(#hatch)"/><path d="M1206,464L1187.19,489.89A32,32 0 0 1 1175.57,454.11Z" fill="#66579a"/><path d="M1206,464L1187.19,489.89A32,32 0 0 1 1175.57,454.11Z" fill="url(#hatch)"/><path d="M1206,464L1175.57,454.11A32,32 0 0 1 1206.00,432.00Z" fill="#4d8a5a"/><path d="M1206,464L1175.57,454.11A32,32 0 0 1 1206.00,432.00Z" fill="url(#hatch)"/>
<circle cx="1538" cy="484" r="19" fill="#3c3c3c"/>
<circle cx="1097" cy="507" r="19" fill="#3c3c3c"/><path d="M1097,507L1097.00,488.00A19,19 0 0 1 1115.07,501.13Z" fill="#874c4c"/><path d="M1097,507L1115.07,501.13A19,19 0 0 1 1108.17,522.37Z" fill="#4a74a0"/><path d="M1097,507L1108.17,522.37A19,19 0 0 1 1085.83,522.37Z" fill="#9c772e"/><path d="M1097,507L1085.83,522.37A19,19 0 0 1 1078.93,501.13Z" fill="#66579a"/><path d="M1097,507L1078.93,501.13A19,19 0 0 1 1097.00,488.00Z" fill="#4d8a5a"/>
<circle cx="1339" cy="538" r="33" fill="#3c3c3c"/>
<circle cx="1005" cy="544" r="20" fill="#3c3c3c"/><path d="M1005,544L1005.00,524.00A20,20 0 0 1 1024.02,537.82Z" fill="#874c4c"/><path d="M1005,544L1024.02,537.82A20,20 0 0 1 1016.76,560.18Z" fill="#4a74a0"/>
<circle cx="1013" cy="695" r="19" fill="#3c3c3c"/><path d="M1013,695L1013.00,676.00A19,19 0 0 1 1031.07,689.13Z" fill="#874c4c"/>
<circle cx="1181" cy="720" r="20" fill="#3c3c3c"/>
<text class="lb" transform="translate(1112,46) scale(0.9,1)" x="0" y="0">OSBPL7</text>
<text class="lb" transform="translate(1009,134) scale(0.9,1)" x="0" y="0">LRSAM1</text>
<text class="lb" transform="translate(1213,155) scale(0.9,1)" x="0" y="0">MAP1LC3C</text>
<text class="lb" transform="translate(1118,216) scale(0.9,1)" x="0" y="0">ATG4B</text>
<text class="lb" transform="translate(1373,240) scale(0.9,1)" x="0" y="0">RCN2</text>
<text class="lb" transform="translate(940,262) scale(0.9,1)" x="0" y="0">MAP1LC3B2</text>
<text class="lb" transform="translate(1281,264) scale(0.9,1)" x="0" y="0">SQSTM1</text>
<text class="lb" transform="translate(1027,290) scale(0.9,1)" x="0" y="0">MAP1LC3A</text>
<text class="lb" transform="translate(1195,303) scale(0.9,1)" x="0" y="0">MAP1LC3B</text>
<text class="lb" transform="translate(1106,353) scale(0.9,1)" x="0" y="0">GABARAPL1</text>
<text class="lb" transform="translate(1280,364) scale(0.9,1)" x="0" y="0">ATG3</text>
<text class="lb" transform="translate(910,414) scale(0.9,1)" x="0" y="0">RETREG1</text>
<text class="lb" transform="translate(1357,406) scale(0.9,1)" x="0" y="0">TBC1D25</text>
<text class="lb" transform="translate(1013,424) scale(0.9,1)" x="0" y="0">ATG7</text>
<text class="lb" transform="translate(1206,464) scale(0.9,1)" x="0" y="0">GABARAPL2</text>
<text class="lb" transform="translate(1538,484) scale(0.9,1)" x="0" y="0">CASP10</text>
<text class="lb" transform="translate(1097,507) scale(0.9,1)" x="0" y="0">GABARAP</text>
<text class="lb" transform="translate(1339,538) scale(0.9,1)" x="0" y="0">ATG4A</text>
<text class="lb" transform="translate(1005,544) scale(0.9,1)" x="0" y="0">TP53INP2</text>
<text class="lb" transform="translate(1013,695) scale(0.9,1)" x="0" y="0">UBA5</text>
<text class="lb" transform="translate(1181,720) scale(0.9,1)" x="0" y="0">NASP</text>
<text class="lt" transform="translate(36,762) scale(1.06,1)">Networks</text>
<rect x="35" y="782.0" width="13" height="13" fill="#e57f84"/>
<text class="li" transform="translate(61,791.5) scale(1.0,1)">Physical Interactions</text>
<rect x="35" y="814.3" width="13" height="13" fill="#b98fc9"/>
<text class="li" transform="translate(61,823.8) scale(1.0,1)">Co-expression</text>
<rect x="35" y="846.6" width="13" height="13" fill="#f5a05a"/>
<text class="li" transform="translate(61,856.1) scale(1.0,1)">Predicted</text>
<rect x="35" y="878.9" width="13" height="13" fill="#7591d6"/>
<text class="li" transform="translate(61,888.4) scale(1.0,1)">Co-localization</text>
<rect x="35" y="911.2" width="13" height="13" fill="#69cf69"/>
<text class="li" transform="translate(61,920.7) scale(1.0,1)">Genetic Interactions</text>
<rect x="35" y="943.5" width="13" height="13" fill="#72c2d0"/>
<text class="li" transform="translate(61,953.0) scale(1.0,1)">Pathway</text>
<rect x="35" y="975.8" width="13" height="13" fill="#c6bf84"/>
<text class="li" transform="translate(61,985.3) scale(1.0,1)">Shared protein domains</text>
<text class="lt" transform="translate(498,762) scale(1.06,1)">Functions</text>
<rect x="498" y="782.0" width="13" height="13" fill="#3f9c4f"/>
<text class="li" transform="translate(523,791.5) scale(1.0,1)">phosphatidylinositol 3-kinase complex</text>
<rect x="498" y="814.3" width="13" height="13" fill="#c454b8"/>
<text class="li" transform="translate(523,823.8) scale(1.0,1)">macroautophagy</text>
<rect x="498" y="846.6" width="13" height="13" fill="#5fb0a8"/>
<text class="li" transform="translate(523,856.1) scale(1.0,1)">cellular response to nutrient levels</text>
<rect x="498" y="878.9" width="13" height="13" fill="#a33f3f"/>
<text class="li" transform="translate(523,888.4) scale(1.0,1)">cellular response to starvation</text>
<rect x="498" y="911.2" width="13" height="13" fill="#3a74b0"/>
<text class="li" transform="translate(523,920.7) scale(1.0,1)">cellular response to extracellular stimulus</text>
<rect x="498" y="943.5" width="13" height="13" fill="#e08a24"/>
<text class="li" transform="translate(523,953.0) scale(1.0,1)">autophagosome organization</text>
<rect x="498" y="975.8" width="13" height="13" fill="#5a4fa8"/>
<text class="li" transform="translate(523,985.3) scale(1.0,1)">regulation of cell division</text>
<text class="lt" transform="translate(897,770) scale(1.06,1)">Networks</text>
<rect x="897" y="790.0" width="13" height="13" fill="#e57f84"/>
<text class="li" transform="translate(922,799.5) scale(1.0,1)">Physical Interactions</text>
<rect x="897" y="822.7" width="13" height="13" fill="#b98fc9"/>
<text class="li" transform="translate(922,832.2) scale(1.0,1)">Co-expression</text>
<rect x="897" y="855.4" width="13" height="13" fill="#f5a05a"/>
<text class="li" transform="translate(922,864.9) scale(1.0,1)">Predicted</text>
<rect x="897" y="888.1" width="13" height="13" fill="#7591d6"/>
<text class="li" transform="translate(922,897.6) scale(1.0,1)">Co-localization</text>
<rect x="897" y="920.8" width="13" height="13" fill="#69cf69"/>
<text class="li" transform="translate(922,930.3) scale(1.0,1)">Genetic Interactions</text>
<rect x="897" y="953.5" width="13" height="13" fill="#72c2d0"/>
<text class="li" transform="translate(922,963.0) scale(1.0,1)">Pathway</text>
<rect x="897" y="986.2" width="13" height="13" fill="#c6bf84"/>
<text class="li" transform="translate(922,995.7) scale(1.0,1)">Shared protein domains</text>
<text class="lt" transform="translate(1363,770) scale(1.06,1)">Functions</text>
<rect x="1363" y="790.0" width="13" height="13" fill="#a84444"/>
<text class="li" transform="translate(1389,799.5) scale(1.0,1)">macroautophagy</text>
<rect x="1363" y="822.7" width="13" height="13" fill="#4a80bf"/>
<text class="li" transform="translate(1389,832.2) scale(1.0,1)">autophagosome organization</text>
<rect x="1363" y="855.4" width="13" height="13" fill="#e0962c"/>
<text class="li" transform="translate(1389,864.9) scale(1.0,1)">autophagosome</text>
<rect x="1363" y="888.1" width="13" height="13" fill="#6f58b8"/>
<text class="li" transform="translate(1389,897.6) scale(1.0,1)">response to starvation</text>
<rect x="1363" y="920.8" width="13" height="13" fill="#4ba45a"/>
<text class="li" transform="translate(1389,930.3) scale(1.0,1)">cellular response to external stimulus</text>
</svg>
</body></html>
